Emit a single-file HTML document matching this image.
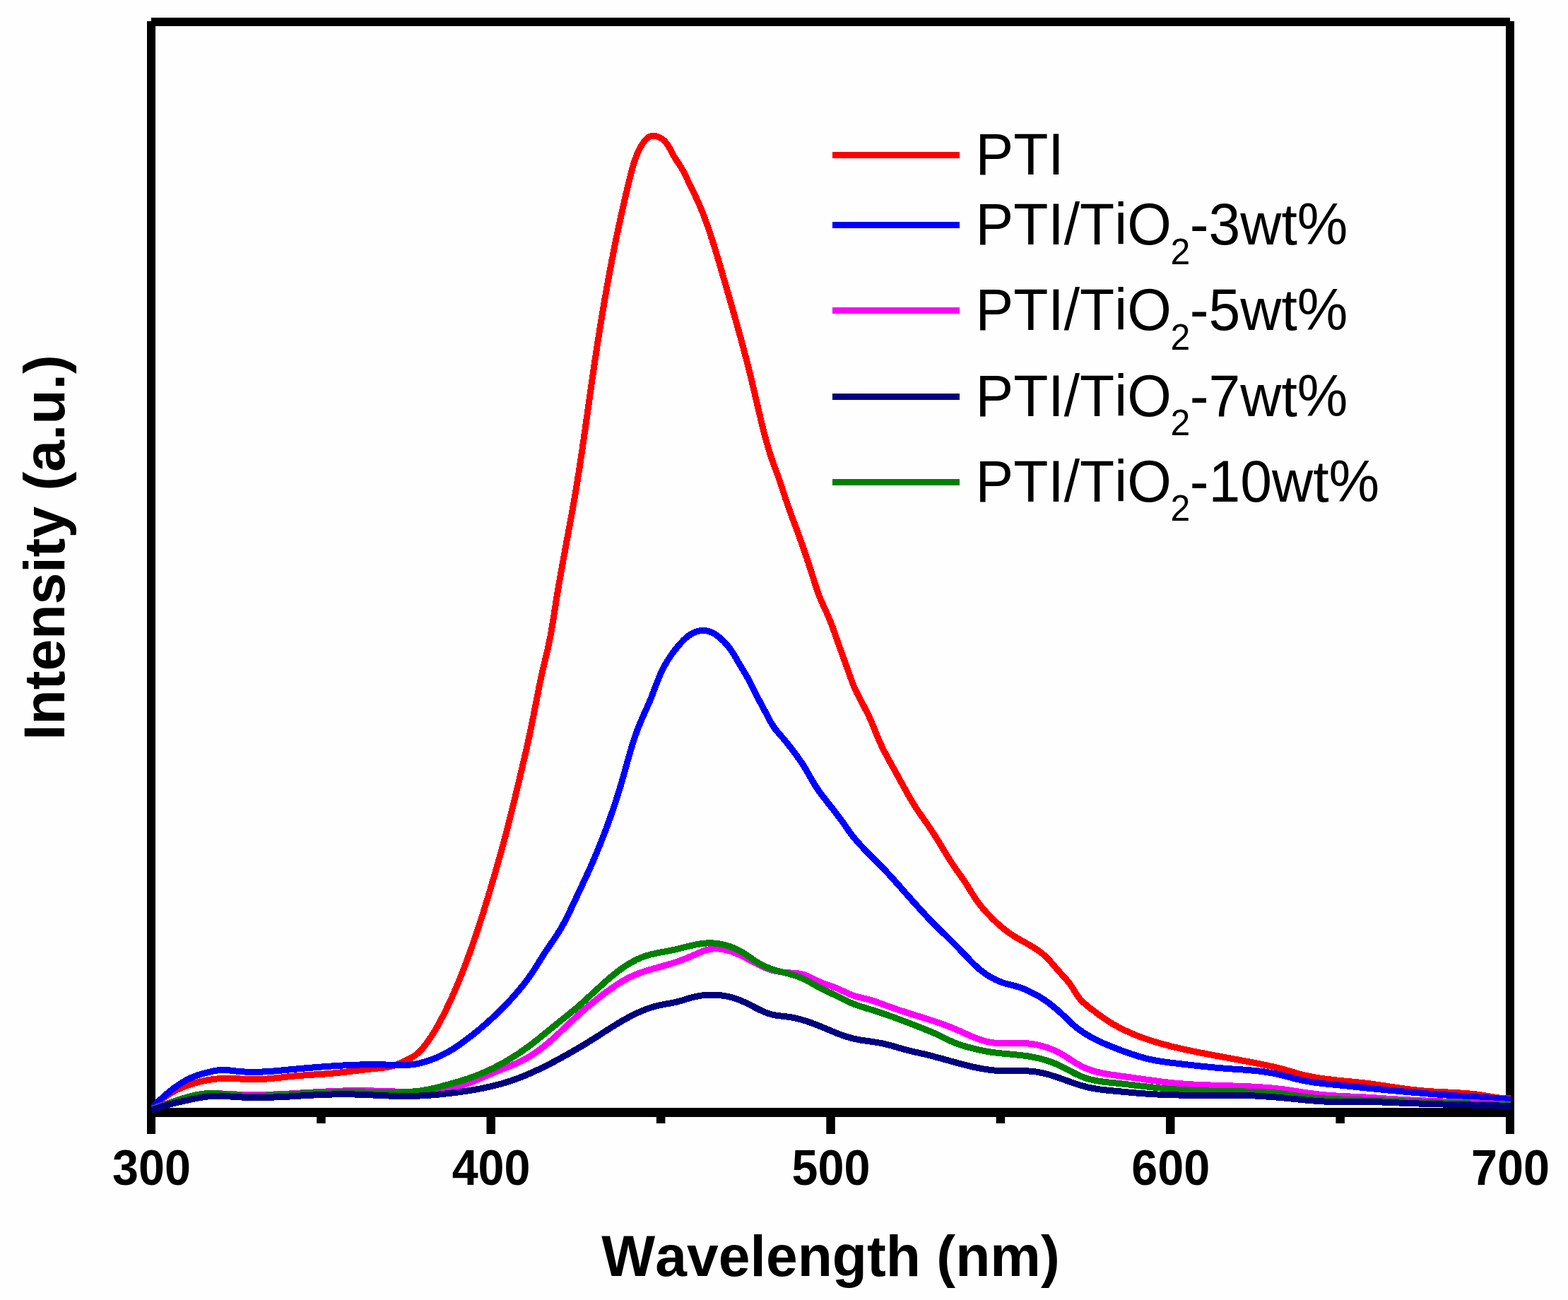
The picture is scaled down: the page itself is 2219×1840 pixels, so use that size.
<!DOCTYPE html>
<html lang="en">
<head>
<meta charset="utf-8">
<title>PL spectra</title>
<style>
html,body{margin:0;padding:0;background:#fefefe;}
body{width:2219px;height:1840px;overflow:hidden;}
svg{display:block;}
</style>
</head>
<body>
<svg width="2219" height="1840" viewBox="0 0 2219 1840">
<rect width="2219" height="1840" fill="#fefefe"/>
<defs><clipPath id="plot"><rect x="214" y="31" width="1924" height="1560"/></clipPath></defs>
<g fill="#000">
<rect x="208" y="30" width="12" height="1575"/>
<rect x="2131" y="30" width="12" height="1575"/>
<rect x="214" y="25" width="1923" height="12"/>
<rect x="214" y="1568" width="1923" height="13"/>
<rect x="688.5" y="1574" width="12.5" height="31"/>
<rect x="1169.3" y="1574" width="12.5" height="31"/>
<rect x="1650.0" y="1574" width="12.5" height="31"/>
<rect x="448.2" y="1574" width="12.5" height="16"/>
<rect x="928.9" y="1574" width="12.5" height="16"/>
<rect x="1409.7" y="1574" width="12.5" height="16"/>
<rect x="1890.4" y="1574" width="12.5" height="16"/>
</g>
<g fill="none" stroke-width="9" stroke-linejoin="round" shape-rendering="crispEdges" clip-path="url(#plot)">
<path stroke="#ff0000" d="M214.0,1569.0 L215.5,1567.6 L217.0,1566.2 L218.5,1564.9 L220.0,1563.5 L221.5,1562.2 L223.0,1560.9 L224.5,1559.6 L226.1,1558.3 L227.6,1557.1 L229.2,1555.8 L230.8,1554.6 L232.4,1553.4 L234.0,1552.3 L235.6,1551.1 L237.3,1550.0 L238.9,1548.9 L240.6,1547.9 L242.3,1546.9 L244.0,1545.9 L245.8,1544.9 L247.5,1543.9 L249.3,1543.0 L251.1,1542.2 L252.9,1541.3 L254.7,1540.5 L256.6,1539.7 L258.4,1538.9 L260.3,1538.2 L262.2,1537.4 L264.1,1536.7 L266.0,1536.1 L267.9,1535.4 L269.8,1534.8 L271.7,1534.2 L273.6,1533.6 L275.5,1533.0 L277.5,1532.5 L279.4,1531.9 L281.4,1531.4 L283.3,1530.9 L285.2,1530.5 L287.2,1530.0 L289.1,1529.6 L291.1,1529.2 L293.1,1528.9 L295.0,1528.5 L297.0,1528.2 L299.0,1527.9 L300.9,1527.6 L302.9,1527.4 L304.9,1527.2 L306.9,1527.0 L308.9,1526.8 L310.9,1526.6 L312.8,1526.5 L314.8,1526.4 L316.8,1526.4 L318.8,1526.3 L320.8,1526.3 L322.8,1526.3 L324.8,1526.4 L326.8,1526.4 L328.8,1526.5 L330.8,1526.6 L332.8,1526.6 L334.8,1526.7 L336.8,1526.8 L338.8,1526.9 L340.8,1527.1 L342.9,1527.2 L344.9,1527.3 L346.9,1527.4 L348.9,1527.5 L350.9,1527.6 L352.9,1527.6 L354.9,1527.7 L356.9,1527.7 L358.9,1527.8 L360.9,1527.8 L362.9,1527.7 L364.9,1527.7 L366.9,1527.7 L368.9,1527.6 L370.9,1527.5 L372.9,1527.4 L374.9,1527.2 L376.9,1527.1 L378.9,1526.9 L380.9,1526.8 L382.9,1526.6 L384.9,1526.4 L386.8,1526.2 L388.8,1526.0 L390.8,1525.8 L392.8,1525.6 L394.8,1525.4 L396.8,1525.1 L398.8,1524.9 L400.8,1524.7 L402.8,1524.5 L404.8,1524.3 L406.8,1524.0 L408.7,1523.8 L410.7,1523.6 L412.7,1523.4 L414.7,1523.2 L416.7,1523.0 L418.7,1522.9 L420.7,1522.7 L422.7,1522.5 L424.7,1522.4 L426.7,1522.2 L428.7,1522.1 L430.7,1521.9 L432.7,1521.8 L434.7,1521.7 L436.7,1521.5 L438.7,1521.4 L440.7,1521.3 L442.7,1521.1 L444.7,1521.0 L446.7,1520.9 L448.6,1520.8 L450.6,1520.6 L452.6,1520.5 L454.6,1520.3 L456.6,1520.2 L458.6,1520.1 L460.6,1519.9 L462.6,1519.7 L464.6,1519.6 L466.6,1519.4 L468.6,1519.2 L470.6,1519.1 L472.6,1518.9 L474.6,1518.7 L476.6,1518.5 L478.6,1518.3 L480.6,1518.1 L482.5,1517.9 L484.5,1517.6 L486.5,1517.4 L488.5,1517.2 L490.5,1517.0 L492.5,1516.7 L494.5,1516.5 L496.5,1516.3 L498.5,1516.0 L500.4,1515.8 L502.4,1515.6 L504.4,1515.3 L506.4,1515.1 L508.4,1514.9 L510.4,1514.7 L512.4,1514.4 L514.3,1514.2 L516.3,1514.0 L518.3,1513.7 L520.3,1513.5 L522.3,1513.3 L524.3,1513.1 L526.3,1512.9 L528.3,1512.7 L530.3,1512.5 L532.2,1512.3 L534.3,1512.1 L536.3,1511.9 L538.3,1511.7 L540.3,1511.5 L542.3,1511.2 L544.3,1511.0 L546.2,1510.7 L548.2,1510.4 L550.2,1510.0 L552.1,1509.6 L554.1,1509.1 L556.0,1508.6 L557.9,1508.0 L559.8,1507.4 L561.6,1506.7 L563.5,1505.9 L565.3,1505.1 L567.2,1504.3 L569.0,1503.5 L570.8,1502.7 L572.7,1501.8 L574.5,1501.0 L576.3,1500.1 L578.1,1499.2 L579.9,1498.3 L581.7,1497.4 L583.4,1496.3 L585.1,1495.3 L586.8,1494.2 L588.4,1493.0 L589.9,1491.7 L591.4,1490.4 L592.9,1489.1 L594.3,1487.7 L595.7,1486.3 L597.0,1484.8 L598.4,1483.3 L599.7,1481.7 L600.9,1480.1 L602.2,1478.5 L603.4,1476.9 L604.6,1475.3 L605.7,1473.6 L606.9,1472.0 L608.0,1470.3 L609.2,1468.7 L610.3,1467.0 L611.4,1465.3 L612.4,1463.6 L613.5,1461.9 L614.5,1460.2 L615.6,1458.5 L616.6,1456.8 L617.6,1455.0 L618.6,1453.3 L619.6,1451.5 L620.6,1449.8 L621.5,1448.0 L622.5,1446.3 L623.4,1444.5 L624.3,1442.7 L625.3,1441.0 L626.2,1439.2 L627.1,1437.4 L628.0,1435.6 L628.9,1433.8 L629.8,1432.1 L630.7,1430.3 L631.6,1428.5 L632.4,1426.7 L633.3,1424.9 L634.2,1423.1 L635.0,1421.3 L635.9,1419.4 L636.7,1417.6 L637.6,1415.8 L638.4,1414.0 L639.2,1412.2 L640.1,1410.4 L640.9,1408.5 L641.7,1406.7 L642.5,1404.9 L643.3,1403.0 L644.1,1401.2 L644.9,1399.4 L645.7,1397.5 L646.4,1395.7 L647.2,1393.8 L648.0,1392.0 L648.8,1390.1 L649.5,1388.3 L650.3,1386.4 L651.0,1384.6 L651.8,1382.7 L652.5,1380.9 L653.3,1379.0 L654.0,1377.2 L654.7,1375.3 L655.5,1373.4 L656.2,1371.6 L656.9,1369.7 L657.6,1367.8 L658.3,1366.0 L659.0,1364.1 L659.8,1362.2 L660.5,1360.3 L661.2,1358.5 L661.8,1356.6 L662.5,1354.7 L663.2,1352.8 L663.9,1351.0 L664.6,1349.1 L665.3,1347.2 L665.9,1345.3 L666.6,1343.4 L667.3,1341.5 L667.9,1339.7 L668.6,1337.8 L669.3,1335.9 L669.9,1334.0 L670.6,1332.1 L671.2,1330.2 L671.9,1328.3 L672.5,1326.4 L673.2,1324.5 L673.8,1322.6 L674.4,1320.7 L675.1,1318.8 L675.7,1316.9 L676.3,1315.0 L676.9,1313.1 L677.6,1311.2 L678.2,1309.3 L678.8,1307.4 L679.4,1305.5 L680.0,1303.6 L680.6,1301.7 L681.3,1299.8 L681.9,1297.9 L682.5,1296.0 L683.1,1294.1 L683.7,1292.2 L684.3,1290.3 L684.9,1288.3 L685.5,1286.4 L686.0,1284.5 L686.6,1282.6 L687.2,1280.7 L687.8,1278.8 L688.4,1276.9 L689.0,1275.0 L689.6,1273.0 L690.1,1271.1 L690.7,1269.2 L691.3,1267.3 L691.9,1265.4 L692.5,1263.5 L693.0,1261.5 L693.6,1259.6 L694.2,1257.7 L694.7,1255.8 L695.3,1253.9 L695.9,1251.9 L696.4,1250.0 L697.0,1248.1 L697.6,1246.2 L698.1,1244.3 L698.7,1242.3 L699.2,1240.4 L699.8,1238.5 L700.4,1236.6 L700.9,1234.7 L701.5,1232.7 L702.0,1230.8 L702.6,1228.9 L703.1,1227.0 L703.7,1225.0 L704.2,1223.1 L704.8,1221.2 L705.3,1219.3 L705.9,1217.3 L706.4,1215.4 L707.0,1213.5 L707.5,1211.6 L708.0,1209.6 L708.6,1207.7 L709.1,1205.8 L709.6,1203.9 L710.2,1201.9 L710.7,1200.0 L711.2,1198.1 L711.8,1196.1 L712.3,1194.2 L712.8,1192.3 L713.3,1190.3 L713.8,1188.4 L714.3,1186.5 L714.9,1184.5 L715.4,1182.6 L715.9,1180.7 L716.4,1178.7 L716.9,1176.8 L717.4,1174.9 L717.9,1172.9 L718.4,1171.0 L718.9,1169.0 L719.4,1167.1 L719.9,1165.2 L720.3,1163.2 L720.8,1161.3 L721.3,1159.4 L721.8,1157.4 L722.3,1155.5 L722.8,1153.5 L723.3,1151.6 L723.8,1149.6 L724.2,1147.7 L724.7,1145.8 L725.2,1143.8 L725.7,1141.9 L726.1,1139.9 L726.6,1138.0 L727.1,1136.0 L727.6,1134.1 L728.0,1132.2 L728.5,1130.2 L729.0,1128.3 L729.4,1126.3 L729.9,1124.4 L730.4,1122.4 L730.9,1120.5 L731.3,1118.5 L731.8,1116.6 L732.3,1114.6 L732.7,1112.7 L733.2,1110.7 L733.6,1108.8 L734.1,1106.9 L734.6,1104.9 L735.0,1103.0 L735.5,1101.0 L736.0,1099.1 L736.4,1097.1 L736.9,1095.2 L737.4,1093.2 L737.8,1091.3 L738.3,1089.3 L738.7,1087.4 L739.2,1085.4 L739.6,1083.5 L740.1,1081.5 L740.6,1079.6 L741.0,1077.7 L741.5,1075.7 L741.9,1073.8 L742.4,1071.8 L742.8,1069.9 L743.3,1067.9 L743.7,1066.0 L744.2,1064.0 L744.6,1062.1 L745.1,1060.1 L745.5,1058.2 L745.9,1056.2 L746.4,1054.3 L746.8,1052.3 L747.2,1050.3 L747.7,1048.4 L748.1,1046.4 L748.5,1044.5 L748.9,1042.5 L749.4,1040.6 L749.8,1038.6 L750.2,1036.7 L750.6,1034.7 L751.0,1032.8 L751.4,1030.8 L751.8,1028.8 L752.2,1026.9 L752.6,1024.9 L753.0,1023.0 L753.4,1021.0 L753.8,1019.0 L754.2,1017.1 L754.6,1015.1 L755.0,1013.1 L755.4,1011.2 L755.7,1009.2 L756.1,1007.3 L756.5,1005.3 L756.9,1003.3 L757.3,1001.4 L757.6,999.4 L758.0,997.4 L758.4,995.5 L758.8,993.5 L759.2,991.5 L759.5,989.6 L759.9,987.6 L760.3,985.6 L760.7,983.7 L761.1,981.7 L761.5,979.7 L761.9,977.8 L762.2,975.8 L762.6,973.9 L763.0,971.9 L763.4,969.9 L763.8,968.0 L764.2,966.0 L764.7,964.1 L765.1,962.1 L765.5,960.1 L765.9,958.2 L766.3,956.2 L766.8,954.3 L767.2,952.3 L767.6,950.4 L768.1,948.4 L768.5,946.5 L769.0,944.5 L769.5,942.6 L769.9,940.6 L770.4,938.7 L770.9,936.7 L771.3,934.8 L771.8,932.8 L772.2,930.9 L772.7,928.9 L773.2,927.0 L773.6,925.0 L774.1,923.1 L774.5,921.1 L775.0,919.2 L775.4,917.2 L775.9,915.3 L776.3,913.3 L776.7,911.4 L777.1,909.4 L777.5,907.5 L777.9,905.5 L778.3,903.5 L778.7,901.6 L779.1,899.6 L779.4,897.6 L779.8,895.7 L780.1,893.7 L780.5,891.7 L780.8,889.8 L781.1,887.8 L781.5,885.8 L781.8,883.9 L782.1,881.9 L782.4,879.9 L782.8,877.9 L783.1,876.0 L783.4,874.0 L783.7,872.0 L784.0,870.0 L784.3,868.0 L784.6,866.1 L784.9,864.1 L785.2,862.1 L785.5,860.1 L785.8,858.2 L786.2,856.2 L786.5,854.2 L786.8,852.2 L787.1,850.2 L787.4,848.3 L787.7,846.3 L788.0,844.3 L788.4,842.3 L788.7,840.4 L789.0,838.4 L789.4,836.4 L789.7,834.4 L790.0,832.5 L790.4,830.5 L790.7,828.5 L791.0,826.6 L791.4,824.6 L791.7,822.6 L792.1,820.6 L792.4,818.7 L792.8,816.7 L793.1,814.7 L793.4,812.8 L793.8,810.8 L794.2,808.8 L794.5,806.8 L794.9,804.9 L795.2,802.9 L795.6,800.9 L795.9,799.0 L796.3,797.0 L796.6,795.0 L797.0,793.1 L797.4,791.1 L797.7,789.1 L798.1,787.2 L798.5,785.2 L798.8,783.2 L799.2,781.3 L799.5,779.3 L799.9,777.3 L800.3,775.3 L800.6,773.4 L801.0,771.4 L801.4,769.4 L801.7,767.5 L802.1,765.5 L802.5,763.5 L802.8,761.6 L803.2,759.6 L803.6,757.6 L803.9,755.7 L804.3,753.7 L804.7,751.7 L805.0,749.8 L805.4,747.8 L805.7,745.8 L806.1,743.9 L806.5,741.9 L806.8,739.9 L807.2,738.0 L807.6,736.0 L807.9,734.0 L808.3,732.0 L808.6,730.1 L809.0,728.1 L809.3,726.1 L809.7,724.2 L810.0,722.2 L810.4,720.2 L810.7,718.3 L811.1,716.3 L811.4,714.3 L811.8,712.3 L812.1,710.4 L812.5,708.4 L812.8,706.4 L813.2,704.5 L813.5,702.5 L813.8,700.5 L814.2,698.5 L814.5,696.6 L814.8,694.6 L815.2,692.6 L815.5,690.7 L815.8,688.7 L816.1,686.7 L816.4,684.7 L816.8,682.8 L817.1,680.8 L817.4,678.8 L817.7,676.8 L818.0,674.9 L818.3,672.9 L818.7,670.9 L819.0,668.9 L819.3,667.0 L819.6,665.0 L819.9,663.0 L820.2,661.0 L820.5,659.0 L820.8,657.1 L821.1,655.1 L821.4,653.1 L821.7,651.1 L822.0,649.2 L822.3,647.2 L822.6,645.2 L822.9,643.2 L823.2,641.2 L823.5,639.3 L823.8,637.3 L824.1,635.3 L824.3,633.3 L824.6,631.3 L824.9,629.4 L825.2,627.4 L825.5,625.4 L825.8,623.4 L826.1,621.4 L826.4,619.5 L826.6,617.5 L826.9,615.5 L827.2,613.5 L827.5,611.5 L827.8,609.6 L828.1,607.6 L828.3,605.6 L828.6,603.6 L828.9,601.6 L829.2,599.7 L829.5,597.7 L829.7,595.7 L830.0,593.7 L830.3,591.7 L830.6,589.8 L830.9,587.8 L831.1,585.8 L831.4,583.8 L831.7,581.8 L832.0,579.8 L832.2,577.9 L832.5,575.9 L832.8,573.9 L833.1,571.9 L833.4,569.9 L833.6,568.0 L833.9,566.0 L834.2,564.0 L834.5,562.0 L834.8,560.0 L835.0,558.0 L835.3,556.1 L835.6,554.1 L835.9,552.1 L836.2,550.1 L836.4,548.1 L836.7,546.2 L837.0,544.2 L837.3,542.2 L837.6,540.2 L837.9,538.2 L838.1,536.3 L838.4,534.3 L838.7,532.3 L839.0,530.3 L839.3,528.3 L839.6,526.4 L839.9,524.4 L840.2,522.4 L840.4,520.4 L840.7,518.4 L841.0,516.5 L841.3,514.5 L841.6,512.5 L841.9,510.5 L842.2,508.5 L842.5,506.6 L842.8,504.6 L843.1,502.6 L843.4,500.6 L843.7,498.6 L844.0,496.7 L844.3,494.7 L844.6,492.7 L844.9,490.7 L845.2,488.7 L845.5,486.8 L845.8,484.8 L846.1,482.8 L846.4,480.8 L846.7,478.9 L847.1,476.9 L847.4,474.9 L847.7,472.9 L848.0,470.9 L848.3,469.0 L848.6,467.0 L848.9,465.0 L849.3,463.0 L849.6,461.1 L849.9,459.1 L850.2,457.1 L850.5,455.1 L850.9,453.2 L851.2,451.2 L851.5,449.2 L851.8,447.2 L852.2,445.3 L852.5,443.3 L852.8,441.3 L853.2,439.3 L853.5,437.4 L853.8,435.4 L854.2,433.4 L854.5,431.5 L854.8,429.5 L855.2,427.5 L855.5,425.5 L855.9,423.6 L856.2,421.6 L856.5,419.6 L856.9,417.7 L857.2,415.7 L857.6,413.7 L857.9,411.7 L858.3,409.8 L858.6,407.8 L859.0,405.8 L859.3,403.9 L859.7,401.9 L860.0,399.9 L860.4,398.0 L860.8,396.0 L861.1,394.0 L861.5,392.0 L861.8,390.1 L862.2,388.1 L862.6,386.1 L862.9,384.2 L863.3,382.2 L863.7,380.2 L864.0,378.3 L864.4,376.3 L864.8,374.3 L865.2,372.4 L865.5,370.4 L865.9,368.5 L866.3,366.5 L866.7,364.5 L867.1,362.6 L867.4,360.6 L867.8,358.6 L868.2,356.7 L868.6,354.7 L869.0,352.7 L869.4,350.8 L869.8,348.8 L870.2,346.9 L870.6,344.9 L871.0,342.9 L871.4,341.0 L871.8,339.0 L872.2,337.1 L872.6,335.1 L873.0,333.1 L873.4,331.2 L873.8,329.2 L874.2,327.3 L874.6,325.3 L875.0,323.3 L875.5,321.4 L875.9,319.4 L876.3,317.5 L876.7,315.5 L877.1,313.6 L877.6,311.6 L878.0,309.7 L878.4,307.7 L878.8,305.7 L879.3,303.8 L879.7,301.8 L880.1,299.9 L880.6,297.9 L881.0,296.0 L881.4,294.0 L881.9,292.1 L882.3,290.1 L882.8,288.2 L883.2,286.2 L883.7,284.3 L884.1,282.3 L884.6,280.4 L885.0,278.4 L885.5,276.5 L885.9,274.5 L886.4,272.6 L886.9,270.6 L887.3,268.7 L887.8,266.7 L888.3,264.8 L888.7,262.9 L889.2,260.9 L889.7,259.0 L890.2,257.0 L890.6,255.1 L891.1,253.1 L891.6,251.2 L892.1,249.3 L892.6,247.3 L893.0,245.4 L893.5,243.4 L894.0,241.5 L894.6,239.6 L895.1,237.6 L895.6,235.7 L896.2,233.8 L896.8,231.9 L897.4,230.0 L898.0,228.1 L898.6,226.2 L899.3,224.3 L900.0,222.4 L900.7,220.6 L901.4,218.7 L902.2,216.9 L903.0,215.0 L903.9,213.2 L904.8,211.4 L905.7,209.6 L906.7,207.9 L907.7,206.1 L908.8,204.4 L909.9,202.7 L911.1,201.0 L912.3,199.4 L913.7,197.8 L915.1,196.4 L916.6,195.1 L918.2,194.0 L919.9,193.2 L921.7,192.7 L923.7,192.4 L925.6,192.4 L927.6,192.6 L929.6,193.1 L931.6,193.8 L933.5,194.6 L935.3,195.6 L937.0,196.7 L938.6,198.0 L940.1,199.3 L941.5,200.8 L942.8,202.3 L944.0,203.8 L945.1,205.5 L946.2,207.2 L947.2,208.9 L948.1,210.6 L949.0,212.4 L950.0,214.2 L950.9,215.9 L951.8,217.7 L952.8,219.5 L953.8,221.2 L954.9,222.9 L956.0,224.6 L957.0,226.3 L958.1,228.0 L959.3,229.6 L960.4,231.3 L961.5,233.0 L962.5,234.7 L963.6,236.4 L964.6,238.1 L965.6,239.8 L966.6,241.5 L967.5,243.3 L968.5,245.1 L969.4,246.8 L970.2,248.6 L971.1,250.4 L972.0,252.2 L972.8,254.0 L973.6,255.9 L974.5,257.7 L975.3,259.5 L976.2,261.3 L977.0,263.1 L977.9,264.9 L978.8,266.7 L979.7,268.5 L980.5,270.3 L981.4,272.1 L982.3,273.9 L983.2,275.7 L984.0,277.5 L984.9,279.3 L985.8,281.1 L986.6,282.9 L987.4,284.8 L988.3,286.6 L989.1,288.4 L989.9,290.2 L990.7,292.1 L991.4,293.9 L992.2,295.8 L993.0,297.6 L993.7,299.5 L994.5,301.3 L995.2,303.2 L995.9,305.0 L996.6,306.9 L997.3,308.8 L998.0,310.7 L998.7,312.5 L999.4,314.4 L1000.1,316.3 L1000.8,318.2 L1001.4,320.1 L1002.1,321.9 L1002.7,323.8 L1003.4,325.7 L1004.0,327.6 L1004.7,329.5 L1005.3,331.4 L1005.9,333.3 L1006.5,335.2 L1007.1,337.1 L1007.8,339.0 L1008.4,340.9 L1009.0,342.9 L1009.6,344.8 L1010.2,346.7 L1010.7,348.6 L1011.3,350.5 L1011.9,352.4 L1012.5,354.3 L1013.1,356.3 L1013.7,358.2 L1014.2,360.1 L1014.8,362.0 L1015.4,363.9 L1015.9,365.8 L1016.5,367.8 L1017.1,369.7 L1017.7,371.6 L1018.2,373.5 L1018.8,375.4 L1019.4,377.4 L1019.9,379.3 L1020.5,381.2 L1021.1,383.1 L1021.6,385.0 L1022.2,387.0 L1022.7,388.9 L1023.3,390.8 L1023.9,392.7 L1024.4,394.6 L1025.0,396.6 L1025.5,398.5 L1026.1,400.4 L1026.7,402.3 L1027.2,404.2 L1027.8,406.2 L1028.3,408.1 L1028.9,410.0 L1029.4,411.9 L1030.0,413.9 L1030.5,415.8 L1031.1,417.7 L1031.6,419.6 L1032.2,421.5 L1032.7,423.5 L1033.3,425.4 L1033.8,427.3 L1034.4,429.2 L1034.9,431.2 L1035.5,433.1 L1036.0,435.0 L1036.6,436.9 L1037.1,438.9 L1037.7,440.8 L1038.2,442.7 L1038.7,444.6 L1039.3,446.6 L1039.8,448.5 L1040.4,450.4 L1040.9,452.3 L1041.5,454.3 L1042.0,456.2 L1042.5,458.1 L1043.1,460.0 L1043.6,462.0 L1044.1,463.9 L1044.7,465.8 L1045.2,467.8 L1045.8,469.7 L1046.3,471.6 L1046.8,473.5 L1047.3,475.5 L1047.9,477.4 L1048.4,479.3 L1048.9,481.3 L1049.5,483.2 L1050.0,485.1 L1050.5,487.1 L1051.0,489.0 L1051.6,490.9 L1052.1,492.9 L1052.6,494.8 L1053.1,496.7 L1053.6,498.7 L1054.1,500.6 L1054.6,502.5 L1055.2,504.5 L1055.7,506.4 L1056.2,508.3 L1056.7,510.3 L1057.2,512.2 L1057.7,514.1 L1058.2,516.1 L1058.6,518.0 L1059.1,520.0 L1059.6,521.9 L1060.1,523.8 L1060.6,525.8 L1061.1,527.7 L1061.5,529.7 L1062.0,531.6 L1062.5,533.6 L1062.9,535.5 L1063.4,537.4 L1063.9,539.4 L1064.3,541.3 L1064.8,543.3 L1065.3,545.2 L1065.7,547.2 L1066.2,549.1 L1066.6,551.1 L1067.1,553.0 L1067.6,555.0 L1068.0,556.9 L1068.5,558.9 L1068.9,560.8 L1069.4,562.8 L1069.8,564.7 L1070.3,566.6 L1070.7,568.6 L1071.2,570.5 L1071.6,572.5 L1072.1,574.4 L1072.6,576.4 L1073.0,578.3 L1073.5,580.3 L1073.9,582.2 L1074.4,584.2 L1074.8,586.1 L1075.3,588.1 L1075.8,590.0 L1076.2,592.0 L1076.7,593.9 L1077.2,595.9 L1077.6,597.8 L1078.1,599.8 L1078.6,601.7 L1079.1,603.7 L1079.5,605.6 L1080.0,607.6 L1080.5,609.5 L1081.0,611.4 L1081.5,613.4 L1082.0,615.3 L1082.5,617.3 L1083.1,619.2 L1083.6,621.1 L1084.1,623.1 L1084.6,625.0 L1085.2,626.9 L1085.7,628.8 L1086.3,630.8 L1086.8,632.7 L1087.4,634.6 L1088.0,636.5 L1088.6,638.4 L1089.2,640.3 L1089.8,642.2 L1090.4,644.1 L1091.0,646.0 L1091.6,647.9 L1092.3,649.8 L1092.9,651.7 L1093.6,653.6 L1094.3,655.5 L1094.9,657.4 L1095.6,659.2 L1096.3,661.1 L1097.0,663.0 L1097.7,664.8 L1098.4,666.7 L1099.1,668.6 L1099.8,670.5 L1100.5,672.3 L1101.2,674.2 L1101.9,676.1 L1102.5,678.0 L1103.2,679.9 L1103.8,681.8 L1104.5,683.7 L1105.1,685.6 L1105.7,687.5 L1106.4,689.4 L1107.0,691.3 L1107.6,693.2 L1108.2,695.1 L1108.8,697.0 L1109.4,698.9 L1110.1,700.8 L1110.7,702.7 L1111.3,704.6 L1111.9,706.5 L1112.6,708.4 L1113.2,710.3 L1113.9,712.2 L1114.5,714.1 L1115.2,716.0 L1115.9,717.8 L1116.5,719.7 L1117.2,721.6 L1117.9,723.5 L1118.6,725.4 L1119.2,727.3 L1119.9,729.1 L1120.6,731.0 L1121.3,732.9 L1122.0,734.8 L1122.7,736.6 L1123.4,738.5 L1124.1,740.4 L1124.8,742.3 L1125.5,744.1 L1126.2,746.0 L1126.9,747.9 L1127.6,749.8 L1128.3,751.6 L1129.0,753.5 L1129.6,755.4 L1130.3,757.3 L1131.0,759.1 L1131.7,761.0 L1132.4,762.9 L1133.0,764.8 L1133.7,766.7 L1134.4,768.6 L1135.1,770.4 L1135.7,772.3 L1136.4,774.2 L1137.0,776.1 L1137.7,778.0 L1138.3,779.9 L1139.0,781.8 L1139.6,783.7 L1140.3,785.6 L1140.9,787.5 L1141.6,789.4 L1142.2,791.3 L1142.8,793.2 L1143.5,795.1 L1144.1,797.0 L1144.7,798.9 L1145.3,800.8 L1145.9,802.7 L1146.6,804.6 L1147.2,806.5 L1147.8,808.4 L1148.4,810.3 L1149.0,812.2 L1149.6,814.1 L1150.2,816.0 L1150.8,817.9 L1151.4,819.8 L1152.0,821.8 L1152.6,823.7 L1153.2,825.6 L1153.8,827.5 L1154.4,829.4 L1155.0,831.3 L1155.7,833.2 L1156.3,835.1 L1157.0,837.0 L1157.7,838.9 L1158.3,840.7 L1159.1,842.6 L1159.8,844.5 L1160.5,846.3 L1161.3,848.2 L1162.1,850.0 L1162.9,851.8 L1163.7,853.7 L1164.5,855.5 L1165.3,857.3 L1166.2,859.1 L1167.0,861.0 L1167.8,862.8 L1168.7,864.6 L1169.5,866.4 L1170.3,868.2 L1171.1,870.1 L1171.9,871.9 L1172.7,873.7 L1173.5,875.6 L1174.3,877.4 L1175.0,879.3 L1175.7,881.2 L1176.5,883.0 L1177.2,884.9 L1177.9,886.8 L1178.5,888.6 L1179.2,890.5 L1179.9,892.4 L1180.6,894.3 L1181.2,896.2 L1181.9,898.1 L1182.5,900.0 L1183.2,901.9 L1183.9,903.8 L1184.5,905.6 L1185.2,907.5 L1185.9,909.4 L1186.5,911.3 L1187.2,913.2 L1187.9,915.1 L1188.6,916.9 L1189.2,918.8 L1189.9,920.7 L1190.6,922.6 L1191.3,924.5 L1192.0,926.4 L1192.6,928.2 L1193.3,930.1 L1194.0,932.0 L1194.7,933.9 L1195.4,935.8 L1196.0,937.6 L1196.7,939.5 L1197.4,941.4 L1198.1,943.3 L1198.7,945.2 L1199.4,947.1 L1200.1,948.9 L1200.8,950.8 L1201.4,952.7 L1202.1,954.6 L1202.8,956.5 L1203.4,958.4 L1204.1,960.3 L1204.8,962.1 L1205.5,964.0 L1206.2,965.9 L1206.9,967.8 L1207.7,969.6 L1208.4,971.5 L1209.2,973.3 L1210.0,975.1 L1210.9,976.9 L1211.7,978.8 L1212.6,980.6 L1213.5,982.3 L1214.4,984.1 L1215.3,985.9 L1216.3,987.7 L1217.2,989.5 L1218.1,991.2 L1219.1,993.0 L1220.0,994.8 L1220.9,996.5 L1221.9,998.3 L1222.8,1000.1 L1223.7,1001.9 L1224.6,1003.6 L1225.6,1005.4 L1226.5,1007.2 L1227.3,1009.0 L1228.2,1010.8 L1229.1,1012.6 L1230.0,1014.4 L1230.8,1016.2 L1231.6,1018.0 L1232.4,1019.9 L1233.2,1021.7 L1234.0,1023.5 L1234.8,1025.4 L1235.6,1027.2 L1236.3,1029.1 L1237.1,1030.9 L1237.8,1032.8 L1238.6,1034.7 L1239.3,1036.5 L1240.1,1038.4 L1240.8,1040.2 L1241.6,1042.1 L1242.4,1043.9 L1243.1,1045.8 L1243.9,1047.6 L1244.7,1049.4 L1245.5,1051.3 L1246.4,1053.1 L1247.2,1054.9 L1248.1,1056.7 L1248.9,1058.5 L1249.8,1060.3 L1250.7,1062.1 L1251.6,1063.9 L1252.6,1065.6 L1253.5,1067.4 L1254.4,1069.2 L1255.4,1070.9 L1256.3,1072.7 L1257.3,1074.4 L1258.3,1076.2 L1259.2,1077.9 L1260.2,1079.7 L1261.2,1081.4 L1262.1,1083.2 L1263.1,1084.9 L1264.1,1086.7 L1265.1,1088.4 L1266.0,1090.2 L1267.0,1092.0 L1268.0,1093.7 L1268.9,1095.5 L1269.9,1097.2 L1270.9,1099.0 L1271.8,1100.7 L1272.8,1102.5 L1273.7,1104.3 L1274.7,1106.0 L1275.7,1107.8 L1276.6,1109.5 L1277.6,1111.3 L1278.6,1113.0 L1279.5,1114.8 L1280.5,1116.5 L1281.5,1118.3 L1282.4,1120.0 L1283.4,1121.8 L1284.4,1123.5 L1285.4,1125.3 L1286.4,1127.0 L1287.4,1128.7 L1288.4,1130.5 L1289.4,1132.2 L1290.5,1133.9 L1291.5,1135.6 L1292.5,1137.3 L1293.6,1139.0 L1294.6,1140.7 L1295.7,1142.4 L1296.8,1144.1 L1297.9,1145.7 L1299.0,1147.4 L1300.1,1149.1 L1301.2,1150.7 L1302.4,1152.4 L1303.5,1154.0 L1304.7,1155.6 L1305.8,1157.3 L1307.0,1158.9 L1308.1,1160.5 L1309.3,1162.2 L1310.5,1163.8 L1311.6,1165.4 L1312.8,1167.1 L1313.9,1168.7 L1315.0,1170.4 L1316.1,1172.0 L1317.2,1173.7 L1318.3,1175.4 L1319.4,1177.0 L1320.5,1178.7 L1321.6,1180.4 L1322.7,1182.1 L1323.7,1183.8 L1324.8,1185.5 L1325.8,1187.2 L1326.9,1188.9 L1327.9,1190.6 L1329.0,1192.3 L1330.0,1194.0 L1331.0,1195.8 L1332.1,1197.5 L1333.1,1199.2 L1334.1,1200.9 L1335.2,1202.6 L1336.2,1204.3 L1337.3,1206.0 L1338.3,1207.7 L1339.3,1209.4 L1340.4,1211.1 L1341.5,1212.8 L1342.5,1214.5 L1343.6,1216.2 L1344.7,1217.9 L1345.7,1219.6 L1346.8,1221.3 L1347.9,1222.9 L1349.1,1224.6 L1350.2,1226.3 L1351.3,1227.9 L1352.4,1229.6 L1353.6,1231.2 L1354.7,1232.8 L1355.9,1234.5 L1357.1,1236.1 L1358.2,1237.7 L1359.4,1239.4 L1360.5,1241.0 L1361.7,1242.6 L1362.8,1244.3 L1363.9,1245.9 L1365.1,1247.6 L1366.2,1249.3 L1367.2,1250.9 L1368.3,1252.6 L1369.4,1254.3 L1370.4,1256.0 L1371.5,1257.7 L1372.5,1259.4 L1373.6,1261.1 L1374.6,1262.8 L1375.7,1264.5 L1376.8,1266.2 L1377.8,1267.9 L1378.9,1269.6 L1380.0,1271.3 L1381.1,1272.9 L1382.3,1274.6 L1383.4,1276.2 L1384.6,1277.8 L1385.8,1279.4 L1387.1,1281.0 L1388.3,1282.5 L1389.6,1284.1 L1390.9,1285.6 L1392.2,1287.1 L1393.5,1288.6 L1394.9,1290.1 L1396.2,1291.6 L1397.6,1293.1 L1399.0,1294.5 L1400.4,1296.0 L1401.8,1297.4 L1403.2,1298.9 L1404.6,1300.3 L1406.0,1301.7 L1407.5,1303.1 L1408.9,1304.4 L1410.4,1305.8 L1411.8,1307.2 L1413.3,1308.5 L1414.8,1309.8 L1416.3,1311.1 L1417.9,1312.4 L1419.4,1313.7 L1421.0,1314.9 L1422.5,1316.2 L1424.1,1317.4 L1425.7,1318.6 L1427.3,1319.8 L1428.9,1320.9 L1430.6,1322.1 L1432.2,1323.2 L1433.9,1324.2 L1435.6,1325.3 L1437.3,1326.4 L1439.0,1327.4 L1440.7,1328.4 L1442.5,1329.4 L1444.2,1330.4 L1445.9,1331.4 L1447.7,1332.4 L1449.4,1333.3 L1451.2,1334.3 L1453.0,1335.3 L1454.7,1336.3 L1456.4,1337.3 L1458.2,1338.3 L1459.9,1339.3 L1461.6,1340.4 L1463.3,1341.4 L1465.0,1342.5 L1466.7,1343.6 L1468.4,1344.7 L1470.0,1345.9 L1471.6,1347.1 L1473.2,1348.3 L1474.8,1349.5 L1476.3,1350.8 L1477.9,1352.1 L1479.3,1353.4 L1480.8,1354.8 L1482.2,1356.2 L1483.6,1357.6 L1485.0,1359.1 L1486.3,1360.6 L1487.6,1362.1 L1488.9,1363.6 L1490.2,1365.1 L1491.5,1366.6 L1492.8,1368.2 L1494.1,1369.7 L1495.4,1371.2 L1496.7,1372.7 L1498.0,1374.2 L1499.4,1375.7 L1500.7,1377.2 L1502.1,1378.7 L1503.5,1380.2 L1504.8,1381.6 L1506.2,1383.1 L1507.5,1384.6 L1508.8,1386.1 L1510.1,1387.6 L1511.4,1389.2 L1512.6,1390.7 L1513.9,1392.3 L1515.0,1393.9 L1516.1,1395.6 L1517.2,1397.3 L1518.3,1399.0 L1519.4,1400.7 L1520.4,1402.4 L1521.5,1404.1 L1522.5,1405.8 L1523.6,1407.5 L1524.7,1409.2 L1525.9,1410.8 L1527.1,1412.4 L1528.3,1413.9 L1529.6,1415.4 L1531.0,1416.9 L1532.4,1418.3 L1533.9,1419.6 L1535.4,1420.9 L1536.9,1422.2 L1538.4,1423.5 L1540.0,1424.7 L1541.6,1426.0 L1543.2,1427.2 L1544.8,1428.4 L1546.4,1429.6 L1548.1,1430.8 L1549.7,1432.1 L1551.3,1433.3 L1552.9,1434.5 L1554.5,1435.7 L1556.1,1436.9 L1557.7,1438.0 L1559.4,1439.2 L1561.0,1440.4 L1562.6,1441.5 L1564.3,1442.6 L1566.0,1443.7 L1567.6,1444.8 L1569.3,1445.9 L1571.0,1447.0 L1572.7,1448.0 L1574.4,1449.0 L1576.2,1450.0 L1577.9,1451.0 L1579.6,1452.0 L1581.4,1452.9 L1583.1,1453.9 L1584.9,1454.8 L1586.7,1455.7 L1588.5,1456.6 L1590.3,1457.5 L1592.1,1458.4 L1593.9,1459.2 L1595.7,1460.1 L1597.5,1460.9 L1599.3,1461.7 L1601.2,1462.5 L1603.0,1463.3 L1604.9,1464.0 L1606.7,1464.8 L1608.6,1465.6 L1610.4,1466.3 L1612.3,1467.0 L1614.2,1467.7 L1616.1,1468.4 L1617.9,1469.1 L1619.8,1469.8 L1621.7,1470.4 L1623.6,1471.1 L1625.5,1471.7 L1627.4,1472.3 L1629.3,1473.0 L1631.2,1473.6 L1633.2,1474.2 L1635.1,1474.7 L1637.0,1475.3 L1638.9,1475.9 L1640.8,1476.5 L1642.8,1477.0 L1644.7,1477.5 L1646.6,1478.1 L1648.5,1478.6 L1650.5,1479.1 L1652.4,1479.6 L1654.3,1480.1 L1656.3,1480.6 L1658.2,1481.1 L1660.2,1481.6 L1662.1,1482.1 L1664.1,1482.5 L1666.0,1483.0 L1667.9,1483.4 L1669.9,1483.9 L1671.8,1484.3 L1673.8,1484.8 L1675.8,1485.2 L1677.7,1485.6 L1679.7,1486.0 L1681.6,1486.5 L1683.6,1486.9 L1685.5,1487.3 L1687.5,1487.7 L1689.5,1488.1 L1691.4,1488.5 L1693.4,1488.9 L1695.3,1489.3 L1697.3,1489.7 L1699.3,1490.1 L1701.2,1490.4 L1703.2,1490.8 L1705.2,1491.2 L1707.1,1491.6 L1709.1,1492.0 L1711.0,1492.3 L1713.0,1492.7 L1715.0,1493.1 L1716.9,1493.5 L1718.9,1493.8 L1720.9,1494.2 L1722.8,1494.6 L1724.8,1494.9 L1726.8,1495.3 L1728.8,1495.7 L1730.7,1496.0 L1732.7,1496.4 L1734.7,1496.8 L1736.6,1497.1 L1738.6,1497.5 L1740.6,1497.9 L1742.5,1498.2 L1744.5,1498.6 L1746.5,1499.0 L1748.4,1499.3 L1750.4,1499.7 L1752.4,1500.0 L1754.3,1500.4 L1756.3,1500.8 L1758.3,1501.1 L1760.2,1501.5 L1762.2,1501.9 L1764.2,1502.2 L1766.1,1502.6 L1768.1,1503.0 L1770.1,1503.4 L1772.0,1503.7 L1774.0,1504.1 L1776.0,1504.5 L1777.9,1504.9 L1779.9,1505.3 L1781.8,1505.7 L1783.8,1506.0 L1785.8,1506.4 L1787.7,1506.8 L1789.7,1507.2 L1791.6,1507.6 L1793.6,1508.1 L1795.5,1508.5 L1797.5,1508.9 L1799.4,1509.3 L1801.4,1509.8 L1803.3,1510.2 L1805.3,1510.7 L1807.2,1511.2 L1809.2,1511.6 L1811.1,1512.1 L1813.1,1512.6 L1815.0,1513.1 L1816.9,1513.6 L1818.9,1514.2 L1820.8,1514.7 L1822.7,1515.3 L1824.6,1515.8 L1826.6,1516.4 L1828.5,1517.0 L1830.4,1517.5 L1832.3,1518.1 L1834.3,1518.7 L1836.2,1519.2 L1838.1,1519.8 L1840.0,1520.3 L1842.0,1520.8 L1843.9,1521.3 L1845.9,1521.8 L1847.8,1522.2 L1849.7,1522.7 L1851.7,1523.1 L1853.7,1523.5 L1855.6,1523.9 L1857.6,1524.3 L1859.5,1524.6 L1861.5,1525.0 L1863.5,1525.3 L1865.4,1525.6 L1867.4,1525.9 L1869.4,1526.2 L1871.4,1526.5 L1873.3,1526.8 L1875.3,1527.1 L1877.3,1527.3 L1879.3,1527.6 L1881.3,1527.8 L1883.3,1528.0 L1885.3,1528.3 L1887.2,1528.5 L1889.2,1528.7 L1891.2,1528.9 L1893.2,1529.1 L1895.2,1529.3 L1897.2,1529.5 L1899.2,1529.7 L1901.2,1529.9 L1903.2,1530.1 L1905.2,1530.2 L1907.2,1530.4 L1909.2,1530.6 L1911.2,1530.8 L1913.2,1531.0 L1915.2,1531.2 L1917.2,1531.4 L1919.2,1531.6 L1921.2,1531.8 L1923.2,1532.0 L1925.1,1532.2 L1927.1,1532.5 L1929.1,1532.7 L1931.1,1532.9 L1933.1,1533.2 L1935.1,1533.4 L1937.1,1533.7 L1939.1,1533.9 L1941.1,1534.2 L1943.0,1534.5 L1945.0,1534.7 L1947.0,1535.0 L1949.0,1535.3 L1951.0,1535.6 L1952.9,1535.9 L1954.9,1536.2 L1956.9,1536.5 L1958.9,1536.8 L1960.9,1537.1 L1962.8,1537.4 L1964.8,1537.7 L1966.8,1538.0 L1968.8,1538.3 L1970.7,1538.5 L1972.7,1538.8 L1974.7,1539.1 L1976.7,1539.4 L1978.7,1539.7 L1980.6,1540.0 L1982.6,1540.3 L1984.6,1540.6 L1986.6,1540.8 L1988.6,1541.1 L1990.5,1541.4 L1992.5,1541.6 L1994.5,1541.9 L1996.5,1542.1 L1998.5,1542.4 L2000.5,1542.6 L2002.4,1542.8 L2004.4,1543.0 L2006.4,1543.3 L2008.4,1543.5 L2010.4,1543.6 L2012.4,1543.8 L2014.4,1544.0 L2016.4,1544.2 L2018.4,1544.3 L2020.4,1544.5 L2022.4,1544.6 L2024.4,1544.7 L2026.4,1544.9 L2028.3,1545.0 L2030.3,1545.1 L2032.4,1545.2 L2034.4,1545.3 L2036.4,1545.4 L2038.4,1545.5 L2040.4,1545.6 L2042.4,1545.7 L2044.4,1545.8 L2046.4,1545.9 L2048.4,1546.0 L2050.4,1546.1 L2052.4,1546.2 L2054.4,1546.3 L2056.4,1546.4 L2058.4,1546.5 L2060.4,1546.6 L2062.4,1546.7 L2064.4,1546.9 L2066.4,1547.0 L2068.4,1547.1 L2070.4,1547.3 L2072.4,1547.4 L2074.4,1547.5 L2076.4,1547.7 L2078.4,1547.9 L2080.3,1548.1 L2082.3,1548.3 L2084.3,1548.5 L2086.3,1548.7 L2088.3,1548.9 L2090.3,1549.1 L2092.3,1549.4 L2094.2,1549.7 L2096.2,1549.9 L2098.2,1550.2 L2100.2,1550.6 L2102.2,1550.9 L2104.1,1551.2 L2106.1,1551.6 L2108.1,1551.9 L2110.0,1552.2 L2112.0,1552.6 L2114.0,1552.9 L2116.0,1553.2 L2118.0,1553.5 L2119.9,1553.8 L2121.9,1554.0 L2123.9,1554.2 L2125.9,1554.4 L2127.9,1554.5 L2129.9,1554.6 L2131.9,1554.7 L2133.9,1554.7 L2136.0,1554.6 L2138.0,1554.5"/>
<path stroke="#0000ff" d="M214.0,1568.5 L215.5,1567.2 L216.9,1565.8 L218.3,1564.4 L219.8,1563.0 L221.2,1561.6 L222.7,1560.3 L224.2,1558.9 L225.6,1557.5 L227.1,1556.2 L228.6,1554.8 L230.1,1553.5 L231.6,1552.1 L233.1,1550.8 L234.6,1549.5 L236.1,1548.2 L237.7,1546.9 L239.2,1545.6 L240.8,1544.3 L242.3,1543.1 L243.9,1541.8 L245.5,1540.6 L247.1,1539.4 L248.7,1538.3 L250.4,1537.1 L252.0,1536.0 L253.7,1534.9 L255.3,1533.8 L257.0,1532.7 L258.7,1531.7 L260.4,1530.7 L262.2,1529.7 L263.9,1528.7 L265.7,1527.8 L267.5,1526.9 L269.3,1526.1 L271.1,1525.2 L272.9,1524.5 L274.8,1523.7 L276.7,1523.0 L278.5,1522.3 L280.4,1521.6 L282.4,1521.0 L284.3,1520.4 L286.2,1519.8 L288.2,1519.3 L290.1,1518.8 L292.1,1518.3 L294.1,1517.8 L296.0,1517.3 L298.0,1516.9 L300.0,1516.4 L301.9,1516.0 L303.9,1515.6 L305.9,1515.3 L307.8,1515.0 L309.8,1514.8 L311.8,1514.6 L313.8,1514.5 L315.8,1514.4 L317.7,1514.4 L319.7,1514.5 L321.7,1514.7 L323.7,1514.8 L325.7,1515.0 L327.7,1515.3 L329.7,1515.5 L331.7,1515.8 L333.7,1516.0 L335.7,1516.2 L337.7,1516.4 L339.7,1516.6 L341.7,1516.8 L343.7,1516.9 L345.7,1517.0 L347.7,1517.1 L349.7,1517.2 L351.7,1517.3 L353.7,1517.3 L355.7,1517.3 L357.7,1517.3 L359.6,1517.3 L361.6,1517.3 L363.6,1517.3 L365.6,1517.2 L367.6,1517.2 L369.6,1517.1 L371.6,1517.0 L373.6,1516.9 L375.6,1516.8 L377.6,1516.7 L379.6,1516.6 L381.6,1516.4 L383.6,1516.3 L385.6,1516.1 L387.6,1516.0 L389.6,1515.8 L391.6,1515.6 L393.6,1515.4 L395.6,1515.3 L397.6,1515.1 L399.5,1514.9 L401.5,1514.7 L403.5,1514.5 L405.5,1514.3 L407.5,1514.1 L409.5,1513.9 L411.5,1513.7 L413.5,1513.6 L415.5,1513.4 L417.5,1513.2 L419.5,1513.0 L421.5,1512.8 L423.5,1512.6 L425.5,1512.4 L427.5,1512.3 L429.5,1512.1 L431.5,1511.9 L433.5,1511.7 L435.5,1511.6 L437.4,1511.4 L439.4,1511.2 L441.4,1511.1 L443.4,1510.9 L445.4,1510.8 L447.4,1510.6 L449.4,1510.4 L451.4,1510.3 L453.4,1510.1 L455.4,1510.0 L457.4,1509.8 L459.4,1509.7 L461.4,1509.6 L463.4,1509.4 L465.4,1509.3 L467.4,1509.1 L469.4,1509.0 L471.4,1508.9 L473.4,1508.7 L475.4,1508.6 L477.4,1508.5 L479.4,1508.4 L481.4,1508.2 L483.4,1508.1 L485.4,1508.0 L487.3,1507.9 L489.3,1507.8 L491.3,1507.7 L493.3,1507.6 L495.3,1507.5 L497.3,1507.4 L499.3,1507.3 L501.3,1507.3 L503.3,1507.2 L505.3,1507.1 L507.3,1507.1 L509.3,1507.0 L511.3,1506.9 L513.3,1506.9 L515.3,1506.8 L517.3,1506.8 L519.3,1506.8 L521.3,1506.8 L523.3,1506.7 L525.3,1506.7 L527.3,1506.7 L529.3,1506.7 L531.3,1506.7 L533.3,1506.7 L535.3,1506.8 L537.3,1506.8 L539.3,1506.8 L541.3,1506.9 L543.3,1506.9 L545.3,1507.0 L547.3,1507.1 L549.3,1507.1 L551.3,1507.2 L553.3,1507.3 L555.3,1507.4 L557.3,1507.5 L559.3,1507.6 L561.3,1507.6 L563.3,1507.7 L565.3,1507.7 L567.3,1507.7 L569.3,1507.7 L571.3,1507.7 L573.3,1507.6 L575.3,1507.5 L577.3,1507.4 L579.3,1507.2 L581.3,1507.0 L583.3,1506.8 L585.3,1506.5 L587.2,1506.2 L589.2,1505.8 L591.2,1505.4 L593.1,1505.0 L595.1,1504.5 L597.0,1504.0 L599.0,1503.5 L600.9,1502.9 L602.8,1502.4 L604.8,1501.8 L606.7,1501.2 L608.6,1500.5 L610.4,1499.8 L612.3,1499.1 L614.2,1498.4 L616.0,1497.7 L617.9,1496.9 L619.7,1496.1 L621.5,1495.3 L623.3,1494.5 L625.1,1493.6 L626.9,1492.7 L628.7,1491.8 L630.5,1490.9 L632.2,1490.0 L634.0,1489.0 L635.7,1488.0 L637.4,1487.0 L639.1,1485.9 L640.8,1484.9 L642.5,1483.8 L644.2,1482.7 L645.9,1481.6 L647.5,1480.5 L649.2,1479.4 L650.8,1478.3 L652.5,1477.1 L654.1,1475.9 L655.7,1474.7 L657.3,1473.5 L658.9,1472.3 L660.5,1471.1 L662.1,1469.9 L663.7,1468.7 L665.3,1467.5 L666.8,1466.2 L668.4,1465.0 L670.0,1463.8 L671.6,1462.5 L673.1,1461.3 L674.7,1460.0 L676.2,1458.7 L677.8,1457.5 L679.3,1456.2 L680.8,1454.9 L682.4,1453.6 L683.9,1452.3 L685.4,1451.0 L686.9,1449.7 L688.4,1448.4 L689.9,1447.0 L691.4,1445.7 L692.9,1444.4 L694.4,1443.0 L695.9,1441.7 L697.3,1440.3 L698.8,1439.0 L700.2,1437.6 L701.7,1436.2 L703.1,1434.8 L704.6,1433.5 L706.0,1432.1 L707.4,1430.7 L708.9,1429.2 L710.3,1427.8 L711.7,1426.4 L713.1,1425.0 L714.5,1423.6 L715.9,1422.1 L717.3,1420.7 L718.6,1419.2 L720.0,1417.8 L721.4,1416.3 L722.7,1414.8 L724.1,1413.3 L725.4,1411.8 L726.7,1410.4 L728.1,1408.9 L729.4,1407.3 L730.7,1405.8 L732.0,1404.3 L733.3,1402.8 L734.6,1401.3 L735.9,1399.7 L737.1,1398.2 L738.4,1396.6 L739.7,1395.1 L740.9,1393.5 L742.2,1391.9 L743.4,1390.3 L744.6,1388.7 L745.8,1387.1 L747.0,1385.5 L748.2,1383.9 L749.3,1382.3 L750.5,1380.6 L751.6,1379.0 L752.8,1377.3 L753.9,1375.7 L755.0,1374.0 L756.1,1372.3 L757.1,1370.6 L758.2,1369.0 L759.3,1367.3 L760.3,1365.6 L761.4,1363.9 L762.4,1362.2 L763.5,1360.5 L764.5,1358.8 L765.6,1357.1 L766.7,1355.4 L767.7,1353.7 L768.8,1352.0 L769.9,1350.3 L771.0,1348.6 L772.1,1347.0 L773.2,1345.3 L774.3,1343.7 L775.5,1342.0 L776.6,1340.3 L777.7,1338.7 L778.9,1337.0 L780.0,1335.4 L781.1,1333.7 L782.3,1332.1 L783.4,1330.4 L784.5,1328.8 L785.6,1327.1 L786.7,1325.4 L787.8,1323.7 L788.9,1322.1 L790.0,1320.4 L791.0,1318.7 L792.1,1317.0 L793.1,1315.3 L794.1,1313.6 L795.1,1311.8 L796.1,1310.1 L797.1,1308.3 L798.0,1306.6 L799.0,1304.8 L799.9,1303.1 L800.8,1301.3 L801.7,1299.5 L802.6,1297.7 L803.5,1295.9 L804.4,1294.1 L805.2,1292.3 L806.1,1290.5 L807.0,1288.7 L807.8,1286.9 L808.7,1285.1 L809.5,1283.3 L810.4,1281.5 L811.2,1279.6 L812.1,1277.8 L812.9,1276.0 L813.8,1274.2 L814.6,1272.4 L815.5,1270.6 L816.4,1268.8 L817.2,1266.9 L818.1,1265.1 L818.9,1263.3 L819.8,1261.5 L820.6,1259.7 L821.5,1257.9 L822.4,1256.1 L823.2,1254.3 L824.1,1252.5 L824.9,1250.7 L825.8,1248.8 L826.6,1247.0 L827.5,1245.2 L828.3,1243.4 L829.2,1241.6 L830.0,1239.8 L830.8,1237.9 L831.7,1236.1 L832.5,1234.3 L833.3,1232.5 L834.1,1230.7 L835.0,1228.8 L835.8,1227.0 L836.6,1225.2 L837.4,1223.3 L838.2,1221.5 L839.0,1219.7 L839.8,1217.8 L840.6,1216.0 L841.4,1214.2 L842.1,1212.3 L842.9,1210.5 L843.7,1208.6 L844.5,1206.8 L845.2,1204.9 L846.0,1203.1 L846.8,1201.2 L847.5,1199.4 L848.3,1197.5 L849.0,1195.7 L849.8,1193.8 L850.5,1192.0 L851.2,1190.1 L852.0,1188.3 L852.7,1186.4 L853.4,1184.5 L854.1,1182.7 L854.9,1180.8 L855.6,1178.9 L856.3,1177.1 L857.0,1175.2 L857.7,1173.3 L858.4,1171.4 L859.1,1169.6 L859.8,1167.7 L860.5,1165.8 L861.1,1163.9 L861.8,1162.1 L862.5,1160.2 L863.2,1158.3 L863.8,1156.4 L864.5,1154.5 L865.2,1152.6 L865.8,1150.7 L866.5,1148.8 L867.1,1147.0 L867.8,1145.1 L868.4,1143.2 L869.0,1141.3 L869.7,1139.4 L870.3,1137.5 L870.9,1135.6 L871.6,1133.7 L872.2,1131.8 L872.8,1129.9 L873.4,1127.9 L874.0,1126.0 L874.6,1124.1 L875.2,1122.2 L875.8,1120.3 L876.4,1118.4 L877.0,1116.5 L877.5,1114.5 L878.1,1112.6 L878.7,1110.7 L879.3,1108.8 L879.8,1106.9 L880.4,1104.9 L880.9,1103.0 L881.5,1101.1 L882.1,1099.2 L882.6,1097.2 L883.1,1095.3 L883.7,1093.4 L884.2,1091.4 L884.8,1089.5 L885.3,1087.6 L885.8,1085.6 L886.4,1083.7 L886.9,1081.8 L887.4,1079.8 L888.0,1077.9 L888.5,1076.0 L889.1,1074.0 L889.6,1072.1 L890.2,1070.2 L890.7,1068.2 L891.3,1066.3 L891.8,1064.4 L892.4,1062.5 L893.0,1060.6 L893.5,1058.6 L894.1,1056.7 L894.7,1054.8 L895.3,1052.9 L895.9,1051.0 L896.5,1049.1 L897.1,1047.2 L897.8,1045.3 L898.4,1043.4 L899.0,1041.5 L899.7,1039.6 L900.4,1037.7 L901.0,1035.9 L901.7,1034.0 L902.4,1032.1 L903.1,1030.3 L903.9,1028.4 L904.6,1026.6 L905.4,1024.7 L906.1,1022.9 L906.9,1021.0 L907.7,1019.2 L908.5,1017.4 L909.3,1015.6 L910.1,1013.7 L910.9,1011.9 L911.7,1010.1 L912.5,1008.3 L913.4,1006.4 L914.2,1004.6 L915.0,1002.8 L915.8,1001.0 L916.6,999.1 L917.4,997.3 L918.2,995.4 L919.0,993.6 L919.8,991.8 L920.6,989.9 L921.4,988.0 L922.1,986.2 L922.8,984.3 L923.6,982.4 L924.3,980.5 L925.0,978.6 L925.7,976.8 L926.4,974.9 L927.1,973.0 L927.8,971.1 L928.6,969.2 L929.3,967.3 L930.0,965.4 L930.7,963.6 L931.5,961.7 L932.2,959.9 L933.0,958.0 L933.8,956.2 L934.5,954.3 L935.4,952.5 L936.2,950.7 L937.0,948.9 L937.9,947.1 L938.8,945.4 L939.7,943.6 L940.7,941.9 L941.7,940.2 L942.6,938.5 L943.6,936.8 L944.7,935.1 L945.7,933.4 L946.8,931.7 L947.9,930.1 L949.0,928.4 L950.2,926.8 L951.3,925.2 L952.5,923.6 L953.7,922.0 L954.9,920.4 L956.2,918.8 L957.4,917.2 L958.7,915.6 L960.0,914.0 L961.3,912.5 L962.7,910.9 L964.1,909.4 L965.5,907.9 L966.9,906.4 L968.4,905.0 L969.8,903.6 L971.4,902.3 L972.9,901.0 L974.5,899.8 L976.1,898.7 L977.8,897.6 L979.5,896.7 L981.3,895.8 L983.1,895.0 L984.9,894.3 L986.8,893.7 L988.7,893.2 L990.7,892.8 L992.7,892.6 L994.6,892.5 L996.6,892.5 L998.6,892.7 L1000.6,893.0 L1002.5,893.5 L1004.4,894.1 L1006.3,894.8 L1008.1,895.6 L1009.9,896.5 L1011.7,897.5 L1013.4,898.6 L1015.0,899.8 L1016.6,901.0 L1018.2,902.3 L1019.8,903.6 L1021.3,905.0 L1022.7,906.4 L1024.2,907.8 L1025.6,909.3 L1026.9,910.8 L1028.3,912.3 L1029.6,913.8 L1030.9,915.3 L1032.1,916.9 L1033.3,918.5 L1034.4,920.1 L1035.5,921.7 L1036.6,923.4 L1037.7,925.1 L1038.8,926.8 L1039.8,928.5 L1040.8,930.2 L1041.8,931.9 L1042.8,933.6 L1043.8,935.4 L1044.8,937.1 L1045.8,938.8 L1046.8,940.6 L1047.9,942.3 L1048.9,944.0 L1049.9,945.7 L1050.9,947.4 L1052.0,949.2 L1053.0,950.9 L1054.0,952.6 L1055.1,954.3 L1056.1,956.1 L1057.1,957.8 L1058.1,959.5 L1059.0,961.3 L1060.0,963.0 L1060.9,964.8 L1061.9,966.6 L1062.8,968.3 L1063.7,970.1 L1064.6,971.9 L1065.5,973.7 L1066.4,975.5 L1067.3,977.3 L1068.2,979.0 L1069.1,980.8 L1070.0,982.6 L1070.9,984.4 L1071.8,986.2 L1072.7,988.0 L1073.6,989.8 L1074.5,991.5 L1075.4,993.3 L1076.4,995.1 L1077.3,996.9 L1078.3,998.6 L1079.2,1000.4 L1080.2,1002.1 L1081.1,1003.9 L1082.1,1005.7 L1083.0,1007.4 L1084.0,1009.2 L1084.9,1011.0 L1085.8,1012.7 L1086.8,1014.5 L1087.7,1016.3 L1088.6,1018.1 L1089.6,1019.8 L1090.5,1021.6 L1091.5,1023.3 L1092.5,1025.0 L1093.6,1026.7 L1094.7,1028.4 L1095.8,1030.0 L1096.9,1031.6 L1098.2,1033.2 L1099.4,1034.8 L1100.7,1036.3 L1102.0,1037.8 L1103.3,1039.3 L1104.6,1040.8 L1105.9,1042.3 L1107.3,1043.8 L1108.6,1045.4 L1109.9,1046.9 L1111.2,1048.4 L1112.4,1049.9 L1113.7,1051.5 L1115.0,1053.1 L1116.2,1054.6 L1117.4,1056.2 L1118.7,1057.8 L1119.9,1059.4 L1121.1,1061.0 L1122.3,1062.6 L1123.5,1064.2 L1124.7,1065.8 L1125.9,1067.4 L1127.1,1069.0 L1128.3,1070.6 L1129.4,1072.3 L1130.6,1073.9 L1131.7,1075.5 L1132.9,1077.2 L1134.0,1078.8 L1135.1,1080.5 L1136.2,1082.1 L1137.3,1083.8 L1138.3,1085.5 L1139.3,1087.2 L1140.4,1089.0 L1141.4,1090.7 L1142.4,1092.4 L1143.4,1094.2 L1144.4,1095.9 L1145.4,1097.6 L1146.4,1099.4 L1147.4,1101.1 L1148.4,1102.8 L1149.4,1104.6 L1150.4,1106.3 L1151.4,1108.0 L1152.5,1109.7 L1153.5,1111.4 L1154.6,1113.1 L1155.7,1114.8 L1156.8,1116.5 L1157.9,1118.1 L1159.1,1119.8 L1160.2,1121.4 L1161.4,1123.0 L1162.6,1124.6 L1163.8,1126.2 L1165.0,1127.8 L1166.3,1129.4 L1167.5,1130.9 L1168.7,1132.5 L1170.0,1134.1 L1171.2,1135.7 L1172.4,1137.2 L1173.7,1138.8 L1174.9,1140.4 L1176.2,1141.9 L1177.4,1143.5 L1178.6,1145.1 L1179.9,1146.7 L1181.1,1148.2 L1182.3,1149.8 L1183.5,1151.4 L1184.7,1153.0 L1185.9,1154.6 L1187.1,1156.2 L1188.3,1157.8 L1189.5,1159.4 L1190.7,1161.0 L1191.9,1162.6 L1193.0,1164.3 L1194.2,1165.9 L1195.3,1167.6 L1196.5,1169.2 L1197.6,1170.8 L1198.8,1172.5 L1199.9,1174.1 L1201.1,1175.8 L1202.2,1177.4 L1203.4,1179.0 L1204.6,1180.6 L1205.8,1182.2 L1207.1,1183.8 L1208.3,1185.3 L1209.6,1186.9 L1210.9,1188.4 L1212.2,1189.9 L1213.5,1191.4 L1214.8,1192.9 L1216.1,1194.4 L1217.5,1195.9 L1218.8,1197.3 L1220.2,1198.8 L1221.6,1200.3 L1223.0,1201.7 L1224.4,1203.1 L1225.8,1204.6 L1227.2,1206.0 L1228.6,1207.4 L1230.0,1208.8 L1231.4,1210.2 L1232.8,1211.7 L1234.2,1213.1 L1235.6,1214.5 L1237.1,1215.9 L1238.5,1217.3 L1239.9,1218.7 L1241.3,1220.1 L1242.7,1221.6 L1244.1,1223.0 L1245.5,1224.4 L1246.9,1225.9 L1248.3,1227.3 L1249.7,1228.7 L1251.1,1230.2 L1252.5,1231.7 L1253.8,1233.1 L1255.2,1234.6 L1256.6,1236.0 L1257.9,1237.5 L1259.3,1239.0 L1260.6,1240.5 L1262.0,1241.9 L1263.3,1243.4 L1264.7,1244.9 L1266.0,1246.4 L1267.3,1247.9 L1268.7,1249.4 L1270.0,1250.9 L1271.3,1252.4 L1272.7,1253.9 L1274.0,1255.4 L1275.3,1256.9 L1276.6,1258.4 L1278.0,1259.9 L1279.3,1261.4 L1280.6,1262.9 L1281.9,1264.4 L1283.3,1265.9 L1284.6,1267.4 L1285.9,1268.9 L1287.2,1270.4 L1288.6,1271.9 L1289.9,1273.4 L1291.2,1274.9 L1292.5,1276.4 L1293.9,1277.9 L1295.2,1279.3 L1296.5,1280.8 L1297.9,1282.3 L1299.2,1283.8 L1300.6,1285.3 L1301.9,1286.8 L1303.3,1288.2 L1304.6,1289.7 L1306.0,1291.2 L1307.3,1292.6 L1308.7,1294.1 L1310.1,1295.6 L1311.5,1297.0 L1312.8,1298.5 L1314.2,1299.9 L1315.6,1301.3 L1317.0,1302.8 L1318.4,1304.2 L1319.8,1305.6 L1321.2,1307.0 L1322.6,1308.5 L1324.0,1309.9 L1325.5,1311.3 L1326.9,1312.7 L1328.3,1314.1 L1329.7,1315.5 L1331.1,1316.9 L1332.6,1318.3 L1334.0,1319.7 L1335.4,1321.1 L1336.9,1322.5 L1338.3,1323.9 L1339.7,1325.3 L1341.2,1326.7 L1342.6,1328.1 L1344.0,1329.5 L1345.4,1330.9 L1346.9,1332.3 L1348.3,1333.8 L1349.7,1335.2 L1351.1,1336.6 L1352.5,1338.0 L1353.9,1339.4 L1355.3,1340.9 L1356.7,1342.3 L1358.1,1343.7 L1359.5,1345.2 L1360.9,1346.6 L1362.3,1348.1 L1363.7,1349.5 L1365.1,1351.0 L1366.4,1352.4 L1367.8,1353.9 L1369.2,1355.4 L1370.6,1356.8 L1371.9,1358.3 L1373.3,1359.7 L1374.7,1361.1 L1376.1,1362.6 L1377.5,1364.0 L1379.0,1365.4 L1380.4,1366.7 L1381.9,1368.1 L1383.4,1369.4 L1384.9,1370.8 L1386.4,1372.1 L1388.0,1373.3 L1389.5,1374.6 L1391.1,1375.8 L1392.7,1377.0 L1394.4,1378.1 L1396.0,1379.3 L1397.7,1380.4 L1399.4,1381.4 L1401.1,1382.5 L1402.8,1383.5 L1404.6,1384.5 L1406.4,1385.4 L1408.1,1386.3 L1410.0,1387.2 L1411.8,1388.0 L1413.6,1388.8 L1415.5,1389.5 L1417.3,1390.2 L1419.2,1390.9 L1421.1,1391.5 L1423.0,1392.1 L1425.0,1392.6 L1426.9,1393.1 L1428.8,1393.6 L1430.8,1394.1 L1432.7,1394.6 L1434.7,1395.1 L1436.6,1395.6 L1438.5,1396.1 L1440.4,1396.7 L1442.3,1397.3 L1444.2,1397.9 L1446.1,1398.6 L1448.0,1399.3 L1449.8,1400.1 L1451.6,1400.9 L1453.5,1401.7 L1455.3,1402.5 L1457.1,1403.4 L1458.9,1404.3 L1460.7,1405.2 L1462.5,1406.1 L1464.3,1407.0 L1466.1,1408.0 L1467.8,1408.9 L1469.6,1409.9 L1471.3,1410.9 L1473.0,1412.0 L1474.7,1413.1 L1476.4,1414.1 L1478.1,1415.2 L1479.7,1416.4 L1481.3,1417.5 L1483.0,1418.7 L1484.6,1419.9 L1486.2,1421.1 L1487.7,1422.3 L1489.3,1423.6 L1490.8,1424.8 L1492.4,1426.1 L1493.9,1427.4 L1495.4,1428.7 L1496.9,1430.0 L1498.4,1431.3 L1499.9,1432.7 L1501.4,1434.0 L1502.9,1435.4 L1504.3,1436.7 L1505.8,1438.1 L1507.2,1439.5 L1508.7,1440.9 L1510.1,1442.3 L1511.6,1443.7 L1513.0,1445.1 L1514.5,1446.4 L1516.0,1447.8 L1517.4,1449.2 L1518.9,1450.5 L1520.4,1451.8 L1522.0,1453.1 L1523.5,1454.4 L1525.1,1455.6 L1526.7,1456.8 L1528.3,1458.0 L1529.9,1459.1 L1531.5,1460.3 L1533.2,1461.4 L1534.8,1462.5 L1536.5,1463.5 L1538.2,1464.6 L1539.9,1465.6 L1541.7,1466.6 L1543.4,1467.6 L1545.1,1468.5 L1546.9,1469.5 L1548.7,1470.4 L1550.5,1471.3 L1552.3,1472.2 L1554.1,1473.1 L1555.9,1474.0 L1557.7,1474.8 L1559.5,1475.6 L1561.4,1476.5 L1563.2,1477.3 L1565.1,1478.1 L1566.9,1478.9 L1568.8,1479.6 L1570.6,1480.4 L1572.5,1481.2 L1574.4,1481.9 L1576.2,1482.7 L1578.1,1483.4 L1580.0,1484.1 L1581.9,1484.9 L1583.7,1485.6 L1585.6,1486.3 L1587.5,1487.0 L1589.4,1487.7 L1591.2,1488.4 L1593.1,1489.1 L1595.0,1489.7 L1596.9,1490.4 L1598.8,1491.0 L1600.7,1491.7 L1602.6,1492.3 L1604.5,1492.9 L1606.4,1493.5 L1608.3,1494.1 L1610.2,1494.7 L1612.1,1495.3 L1614.0,1495.9 L1615.9,1496.4 L1617.8,1496.9 L1619.7,1497.5 L1621.7,1498.0 L1623.6,1498.4 L1625.5,1498.9 L1627.5,1499.4 L1629.4,1499.8 L1631.4,1500.2 L1633.3,1500.6 L1635.3,1501.0 L1637.2,1501.3 L1639.2,1501.7 L1641.2,1502.0 L1643.2,1502.3 L1645.2,1502.6 L1647.2,1502.9 L1649.1,1503.2 L1651.1,1503.4 L1653.1,1503.7 L1655.1,1503.9 L1657.1,1504.2 L1659.1,1504.4 L1661.1,1504.6 L1663.1,1504.9 L1665.1,1505.1 L1667.1,1505.4 L1669.1,1505.6 L1671.1,1505.8 L1673.1,1506.1 L1675.1,1506.3 L1677.1,1506.5 L1679.0,1506.8 L1681.0,1507.0 L1683.0,1507.2 L1685.0,1507.5 L1687.0,1507.7 L1689.0,1507.9 L1691.0,1508.1 L1693.0,1508.4 L1694.9,1508.6 L1696.9,1508.8 L1698.9,1509.0 L1700.9,1509.2 L1702.9,1509.4 L1704.9,1509.6 L1706.9,1509.8 L1708.8,1510.0 L1710.8,1510.2 L1712.8,1510.4 L1714.8,1510.6 L1716.8,1510.8 L1718.8,1511.0 L1720.8,1511.2 L1722.8,1511.4 L1724.7,1511.5 L1726.7,1511.7 L1728.7,1511.9 L1730.7,1512.0 L1732.7,1512.2 L1734.7,1512.3 L1736.7,1512.5 L1738.7,1512.6 L1740.7,1512.8 L1742.7,1512.9 L1744.7,1513.1 L1746.7,1513.2 L1748.7,1513.3 L1750.7,1513.5 L1752.7,1513.6 L1754.7,1513.7 L1756.7,1513.9 L1758.7,1514.0 L1760.7,1514.2 L1762.7,1514.3 L1764.7,1514.5 L1766.7,1514.6 L1768.7,1514.8 L1770.6,1515.0 L1772.6,1515.1 L1774.6,1515.3 L1776.6,1515.5 L1778.6,1515.7 L1780.6,1515.9 L1782.6,1516.2 L1784.6,1516.4 L1786.6,1516.7 L1788.5,1516.9 L1790.5,1517.2 L1792.5,1517.5 L1794.5,1517.8 L1796.4,1518.1 L1798.4,1518.5 L1800.4,1518.9 L1802.4,1519.2 L1804.3,1519.6 L1806.3,1520.0 L1808.2,1520.5 L1810.2,1520.9 L1812.1,1521.4 L1814.1,1521.8 L1816.0,1522.3 L1818.0,1522.8 L1819.9,1523.3 L1821.9,1523.8 L1823.8,1524.3 L1825.7,1524.8 L1827.7,1525.3 L1829.6,1525.9 L1831.6,1526.4 L1833.5,1526.9 L1835.4,1527.4 L1837.4,1527.8 L1839.3,1528.3 L1841.3,1528.8 L1843.2,1529.2 L1845.2,1529.6 L1847.1,1530.0 L1849.1,1530.3 L1851.0,1530.7 L1853.0,1531.0 L1855.0,1531.4 L1857.0,1531.7 L1858.9,1531.9 L1860.9,1532.2 L1862.9,1532.5 L1864.9,1532.7 L1866.9,1533.0 L1868.9,1533.2 L1870.9,1533.5 L1872.9,1533.7 L1874.8,1533.9 L1876.8,1534.1 L1878.8,1534.3 L1880.8,1534.5 L1882.8,1534.7 L1884.8,1534.9 L1886.8,1535.1 L1888.8,1535.3 L1890.8,1535.5 L1892.8,1535.7 L1894.8,1535.9 L1896.8,1536.1 L1898.8,1536.3 L1900.8,1536.5 L1902.7,1536.7 L1904.7,1536.9 L1906.7,1537.1 L1908.7,1537.4 L1910.7,1537.6 L1912.7,1537.8 L1914.7,1538.0 L1916.7,1538.2 L1918.7,1538.4 L1920.7,1538.6 L1922.6,1538.8 L1924.6,1539.0 L1926.6,1539.2 L1928.6,1539.4 L1930.6,1539.6 L1932.6,1539.8 L1934.6,1540.0 L1936.6,1540.2 L1938.6,1540.4 L1940.6,1540.6 L1942.5,1540.8 L1944.5,1541.0 L1946.5,1541.2 L1948.5,1541.4 L1950.5,1541.6 L1952.5,1541.8 L1954.5,1542.0 L1956.5,1542.2 L1958.5,1542.4 L1960.5,1542.6 L1962.5,1542.8 L1964.4,1543.0 L1966.4,1543.1 L1968.4,1543.3 L1970.4,1543.5 L1972.4,1543.7 L1974.4,1543.9 L1976.4,1544.1 L1978.4,1544.3 L1980.4,1544.5 L1982.4,1544.6 L1984.4,1544.8 L1986.4,1545.0 L1988.4,1545.2 L1990.3,1545.4 L1992.3,1545.5 L1994.3,1545.7 L1996.3,1545.9 L1998.3,1546.1 L2000.3,1546.3 L2002.3,1546.4 L2004.3,1546.6 L2006.3,1546.8 L2008.3,1546.9 L2010.3,1547.1 L2012.3,1547.3 L2014.3,1547.4 L2016.3,1547.6 L2018.3,1547.8 L2020.2,1547.9 L2022.2,1548.1 L2024.2,1548.3 L2026.2,1548.4 L2028.2,1548.6 L2030.2,1548.7 L2032.2,1548.9 L2034.2,1549.0 L2036.2,1549.2 L2038.2,1549.3 L2040.2,1549.5 L2042.2,1549.6 L2044.2,1549.8 L2046.2,1549.9 L2048.2,1550.1 L2050.2,1550.2 L2052.2,1550.4 L2054.2,1550.5 L2056.2,1550.6 L2058.2,1550.8 L2060.2,1550.9 L2062.2,1551.0 L2064.1,1551.2 L2066.1,1551.3 L2068.1,1551.4 L2070.1,1551.6 L2072.1,1551.7 L2074.1,1551.8 L2076.1,1552.0 L2078.1,1552.1 L2080.1,1552.2 L2082.1,1552.3 L2084.1,1552.5 L2086.1,1552.6 L2088.1,1552.7 L2090.1,1552.9 L2092.1,1553.0 L2094.1,1553.1 L2096.1,1553.3 L2098.1,1553.4 L2100.1,1553.5 L2102.1,1553.7 L2104.1,1553.8 L2106.1,1553.9 L2108.1,1554.1 L2110.1,1554.2 L2112.1,1554.3 L2114.1,1554.5 L2116.1,1554.6 L2118.1,1554.8 L2120.1,1554.9 L2122.0,1555.1 L2124.0,1555.3 L2126.0,1555.4 L2128.0,1555.6 L2130.0,1555.7 L2132.0,1555.9 L2134.0,1556.1 L2136.0,1556.2 L2138.0,1556.4"/>
<path stroke="#ff00ff" d="M214.0,1569.8 L215.9,1569.2 L217.8,1568.6 L219.6,1567.9 L221.5,1567.3 L223.4,1566.6 L225.3,1566.0 L227.1,1565.3 L229.0,1564.7 L230.9,1564.0 L232.8,1563.4 L234.7,1562.7 L236.6,1562.1 L238.5,1561.4 L240.4,1560.8 L242.3,1560.1 L244.2,1559.5 L246.2,1558.9 L248.1,1558.2 L250.0,1557.6 L251.9,1557.0 L253.9,1556.4 L255.8,1555.9 L257.7,1555.3 L259.7,1554.8 L261.6,1554.2 L263.5,1553.7 L265.5,1553.2 L267.4,1552.7 L269.4,1552.2 L271.3,1551.8 L273.3,1551.3 L275.2,1550.9 L277.2,1550.5 L279.2,1550.2 L281.1,1549.8 L283.1,1549.5 L285.1,1549.2 L287.0,1548.9 L289.0,1548.7 L291.0,1548.5 L293.0,1548.3 L294.9,1548.1 L296.9,1548.0 L298.9,1547.9 L300.9,1547.8 L302.9,1547.8 L304.9,1547.8 L306.9,1547.8 L308.9,1547.8 L310.9,1547.8 L312.9,1547.9 L314.9,1548.0 L316.9,1548.0 L318.9,1548.1 L320.9,1548.2 L322.9,1548.3 L324.9,1548.5 L326.9,1548.6 L328.9,1548.7 L330.9,1548.8 L332.9,1548.9 L334.9,1549.0 L336.9,1549.1 L338.9,1549.2 L340.9,1549.2 L342.9,1549.3 L344.9,1549.3 L346.9,1549.4 L348.9,1549.4 L350.9,1549.5 L352.9,1549.5 L354.9,1549.5 L356.9,1549.5 L358.9,1549.5 L360.9,1549.5 L362.9,1549.5 L364.9,1549.5 L366.9,1549.5 L368.9,1549.4 L370.9,1549.4 L372.9,1549.4 L374.9,1549.3 L376.9,1549.3 L378.9,1549.2 L380.9,1549.2 L382.9,1549.1 L384.9,1549.0 L386.9,1549.0 L388.9,1548.9 L390.9,1548.8 L392.9,1548.7 L394.9,1548.7 L396.9,1548.6 L398.9,1548.5 L400.9,1548.4 L402.9,1548.3 L404.9,1548.2 L406.9,1548.1 L408.9,1548.0 L410.9,1547.9 L412.9,1547.7 L414.9,1547.6 L416.9,1547.5 L418.9,1547.4 L420.9,1547.3 L422.9,1547.2 L424.9,1547.0 L426.9,1546.9 L428.9,1546.8 L430.9,1546.7 L432.9,1546.6 L434.9,1546.5 L436.9,1546.3 L438.9,1546.2 L440.9,1546.1 L442.9,1546.0 L444.9,1545.9 L446.9,1545.7 L448.9,1545.6 L450.9,1545.5 L452.9,1545.4 L454.8,1545.3 L456.8,1545.2 L458.8,1545.1 L460.8,1545.0 L462.8,1544.9 L464.8,1544.8 L466.8,1544.7 L468.8,1544.6 L470.8,1544.5 L472.8,1544.4 L474.8,1544.3 L476.8,1544.2 L478.8,1544.2 L480.8,1544.1 L482.8,1544.0 L484.8,1544.0 L486.8,1543.9 L488.8,1543.8 L490.8,1543.8 L492.8,1543.7 L494.8,1543.7 L496.8,1543.7 L498.8,1543.6 L500.8,1543.6 L502.8,1543.6 L504.8,1543.6 L506.8,1543.6 L508.8,1543.6 L510.8,1543.6 L512.8,1543.6 L514.8,1543.6 L516.8,1543.7 L518.8,1543.7 L520.8,1543.7 L522.8,1543.8 L524.8,1543.8 L526.8,1543.9 L528.8,1544.0 L530.8,1544.0 L532.8,1544.1 L534.8,1544.2 L536.8,1544.2 L538.8,1544.3 L540.8,1544.4 L542.8,1544.4 L544.8,1544.5 L546.7,1544.6 L548.7,1544.7 L550.7,1544.7 L552.7,1544.8 L554.7,1544.9 L556.7,1544.9 L558.7,1545.0 L560.7,1545.0 L562.7,1545.1 L564.7,1545.1 L566.8,1545.2 L568.8,1545.2 L570.8,1545.2 L572.8,1545.3 L574.8,1545.3 L576.8,1545.3 L578.8,1545.3 L580.8,1545.3 L582.8,1545.3 L584.8,1545.3 L586.8,1545.2 L588.8,1545.2 L590.8,1545.1 L592.8,1545.1 L594.8,1545.0 L596.8,1544.9 L598.8,1544.8 L600.8,1544.7 L602.8,1544.6 L604.8,1544.5 L606.8,1544.3 L608.8,1544.2 L610.8,1544.0 L612.8,1543.8 L614.8,1543.6 L616.8,1543.4 L618.8,1543.1 L620.8,1542.9 L622.8,1542.6 L624.7,1542.3 L626.7,1542.0 L628.7,1541.7 L630.7,1541.4 L632.7,1541.0 L634.6,1540.6 L636.6,1540.3 L638.6,1539.9 L640.5,1539.4 L642.5,1539.0 L644.4,1538.5 L646.3,1538.1 L648.3,1537.6 L650.2,1537.0 L652.1,1536.5 L654.0,1536.0 L655.9,1535.4 L657.8,1534.8 L659.7,1534.2 L661.6,1533.5 L663.5,1532.9 L665.4,1532.2 L667.2,1531.5 L669.1,1530.8 L670.9,1530.0 L672.8,1529.3 L674.6,1528.5 L676.5,1527.8 L678.3,1527.0 L680.1,1526.2 L682.0,1525.4 L683.8,1524.6 L685.6,1523.8 L687.4,1523.0 L689.3,1522.2 L691.1,1521.4 L693.0,1520.6 L694.8,1519.8 L696.6,1519.1 L698.5,1518.3 L700.4,1517.5 L702.2,1516.8 L704.1,1516.0 L706.0,1515.2 L707.8,1514.5 L709.7,1513.7 L711.6,1513.0 L713.4,1512.2 L715.3,1511.5 L717.2,1510.7 L719.0,1510.0 L720.9,1509.2 L722.8,1508.5 L724.6,1507.7 L726.5,1506.9 L728.3,1506.1 L730.1,1505.3 L732.0,1504.5 L733.8,1503.6 L735.6,1502.8 L737.4,1501.9 L739.2,1501.0 L740.9,1500.1 L742.7,1499.2 L744.4,1498.2 L746.2,1497.2 L747.9,1496.2 L749.6,1495.2 L751.3,1494.2 L753.0,1493.1 L754.6,1492.0 L756.3,1490.9 L757.9,1489.8 L759.5,1488.7 L761.1,1487.5 L762.7,1486.4 L764.3,1485.2 L765.9,1484.0 L767.5,1482.7 L769.1,1481.5 L770.6,1480.3 L772.2,1479.0 L773.7,1477.7 L775.2,1476.4 L776.7,1475.1 L778.3,1473.8 L779.8,1472.5 L781.3,1471.2 L782.8,1469.9 L784.3,1468.5 L785.8,1467.2 L787.2,1465.8 L788.7,1464.4 L790.2,1463.1 L791.7,1461.7 L793.1,1460.3 L794.6,1458.9 L796.1,1457.6 L797.5,1456.2 L799.0,1454.8 L800.4,1453.4 L801.9,1452.0 L803.4,1450.6 L804.8,1449.2 L806.3,1447.8 L807.7,1446.5 L809.2,1445.1 L810.7,1443.7 L812.1,1442.3 L813.6,1441.0 L815.1,1439.6 L816.6,1438.3 L818.0,1436.9 L819.5,1435.6 L821.0,1434.2 L822.5,1432.9 L824.0,1431.6 L825.5,1430.3 L827.0,1429.0 L828.5,1427.7 L830.0,1426.4 L831.5,1425.1 L833.1,1423.8 L834.6,1422.5 L836.1,1421.3 L837.7,1420.0 L839.2,1418.8 L840.8,1417.5 L842.3,1416.3 L843.9,1415.0 L845.4,1413.8 L847.0,1412.6 L848.6,1411.3 L850.1,1410.1 L851.7,1408.9 L853.3,1407.7 L854.9,1406.5 L856.5,1405.3 L858.1,1404.1 L859.7,1402.9 L861.4,1401.8 L863.0,1400.6 L864.6,1399.4 L866.3,1398.3 L867.9,1397.1 L869.6,1396.0 L871.2,1394.8 L872.9,1393.7 L874.6,1392.6 L876.3,1391.5 L878.0,1390.4 L879.7,1389.4 L881.4,1388.4 L883.1,1387.3 L884.9,1386.4 L886.7,1385.4 L888.4,1384.5 L890.2,1383.6 L892.0,1382.7 L893.8,1381.9 L895.6,1381.1 L897.5,1380.3 L899.3,1379.5 L901.2,1378.8 L903.0,1378.1 L904.9,1377.4 L906.8,1376.7 L908.7,1376.0 L910.5,1375.4 L912.4,1374.8 L914.4,1374.1 L916.3,1373.5 L918.2,1373.0 L920.1,1372.4 L922.0,1371.8 L923.9,1371.2 L925.9,1370.7 L927.8,1370.1 L929.7,1369.6 L931.7,1369.1 L933.6,1368.5 L935.5,1368.0 L937.5,1367.4 L939.4,1366.9 L941.3,1366.3 L943.3,1365.8 L945.2,1365.2 L947.1,1364.7 L949.0,1364.1 L950.9,1363.5 L952.8,1362.9 L954.7,1362.3 L956.6,1361.7 L958.5,1361.1 L960.4,1360.4 L962.2,1359.7 L964.1,1359.1 L965.9,1358.4 L967.8,1357.6 L969.6,1356.9 L971.5,1356.2 L973.3,1355.4 L975.2,1354.6 L977.0,1353.9 L978.9,1353.1 L980.7,1352.3 L982.6,1351.5 L984.5,1350.6 L986.3,1349.8 L988.2,1349.0 L990.1,1348.2 L992.0,1347.4 L993.9,1346.6 L995.8,1345.9 L997.7,1345.3 L999.6,1344.7 L1001.5,1344.2 L1003.5,1343.8 L1005.4,1343.4 L1007.4,1343.2 L1009.3,1343.0 L1011.3,1342.9 L1013.2,1342.8 L1015.2,1342.9 L1017.2,1343.0 L1019.1,1343.2 L1021.1,1343.4 L1023.1,1343.7 L1025.0,1344.1 L1027.0,1344.5 L1028.9,1345.0 L1030.9,1345.5 L1032.8,1346.1 L1034.7,1346.7 L1036.6,1347.4 L1038.5,1348.1 L1040.4,1348.8 L1042.3,1349.6 L1044.2,1350.4 L1046.0,1351.2 L1047.8,1352.1 L1049.7,1353.0 L1051.5,1353.9 L1053.3,1354.8 L1055.1,1355.7 L1056.9,1356.6 L1058.7,1357.6 L1060.4,1358.5 L1062.2,1359.5 L1064.0,1360.4 L1065.7,1361.4 L1067.5,1362.3 L1069.3,1363.3 L1071.1,1364.2 L1072.9,1365.1 L1074.6,1366.0 L1076.4,1366.9 L1078.2,1367.7 L1080.0,1368.5 L1081.9,1369.3 L1083.7,1370.1 L1085.5,1370.8 L1087.4,1371.5 L1089.2,1372.1 L1091.1,1372.7 L1093.0,1373.3 L1095.0,1373.8 L1096.9,1374.3 L1098.9,1374.7 L1100.8,1375.0 L1102.8,1375.3 L1104.8,1375.6 L1106.8,1375.9 L1108.8,1376.1 L1110.9,1376.3 L1112.9,1376.5 L1114.9,1376.7 L1116.9,1376.8 L1118.9,1377.0 L1121.0,1377.1 L1123.0,1377.2 L1125.0,1377.4 L1127.0,1377.6 L1128.9,1377.8 L1130.9,1378.0 L1132.8,1378.4 L1134.7,1378.8 L1136.6,1379.2 L1138.5,1379.8 L1140.3,1380.5 L1142.2,1381.2 L1144.0,1382.0 L1145.8,1382.8 L1147.6,1383.7 L1149.4,1384.6 L1151.2,1385.5 L1153.0,1386.4 L1154.8,1387.3 L1156.6,1388.2 L1158.5,1389.0 L1160.3,1389.9 L1162.2,1390.6 L1164.0,1391.4 L1165.9,1392.1 L1167.8,1392.8 L1169.7,1393.4 L1171.6,1394.1 L1173.5,1394.7 L1175.4,1395.4 L1177.2,1396.0 L1179.1,1396.7 L1181.0,1397.4 L1182.9,1398.1 L1184.7,1398.9 L1186.5,1399.7 L1188.4,1400.6 L1190.2,1401.4 L1192.0,1402.3 L1193.8,1403.1 L1195.6,1404.0 L1197.4,1404.8 L1199.2,1405.7 L1201.0,1406.5 L1202.9,1407.3 L1204.7,1408.0 L1206.6,1408.7 L1208.4,1409.4 L1210.3,1410.0 L1212.3,1410.5 L1214.2,1411.1 L1216.1,1411.6 L1218.1,1412.0 L1220.0,1412.5 L1222.0,1413.0 L1223.9,1413.4 L1225.9,1413.9 L1227.8,1414.4 L1229.8,1414.9 L1231.7,1415.4 L1233.6,1415.9 L1235.5,1416.5 L1237.4,1417.1 L1239.3,1417.8 L1241.2,1418.4 L1243.1,1419.1 L1245.0,1419.8 L1246.8,1420.5 L1248.7,1421.2 L1250.6,1421.9 L1252.5,1422.6 L1254.3,1423.3 L1256.2,1423.9 L1258.1,1424.6 L1260.0,1425.3 L1261.9,1426.0 L1263.8,1426.6 L1265.7,1427.3 L1267.5,1427.9 L1269.4,1428.6 L1271.3,1429.2 L1273.2,1429.9 L1275.1,1430.5 L1277.0,1431.1 L1278.9,1431.7 L1280.9,1432.4 L1282.8,1433.0 L1284.7,1433.6 L1286.6,1434.2 L1288.5,1434.8 L1290.4,1435.4 L1292.3,1436.0 L1294.2,1436.6 L1296.1,1437.2 L1298.0,1437.8 L1299.9,1438.4 L1301.8,1439.0 L1303.7,1439.6 L1305.6,1440.2 L1307.6,1440.8 L1309.5,1441.4 L1311.4,1442.0 L1313.3,1442.6 L1315.2,1443.2 L1317.1,1443.8 L1319.0,1444.5 L1320.8,1445.1 L1322.7,1445.7 L1324.6,1446.3 L1326.5,1447.0 L1328.4,1447.6 L1330.3,1448.3 L1332.2,1448.9 L1334.0,1449.6 L1335.9,1450.3 L1337.8,1451.0 L1339.7,1451.7 L1341.5,1452.4 L1343.4,1453.1 L1345.3,1453.8 L1347.1,1454.6 L1349.0,1455.4 L1350.8,1456.1 L1352.7,1456.9 L1354.5,1457.7 L1356.4,1458.5 L1358.2,1459.3 L1360.1,1460.2 L1361.9,1461.0 L1363.7,1461.8 L1365.6,1462.6 L1367.4,1463.5 L1369.3,1464.3 L1371.1,1465.1 L1373.0,1465.9 L1374.8,1466.7 L1376.7,1467.4 L1378.5,1468.2 L1380.4,1468.9 L1382.2,1469.6 L1384.1,1470.3 L1386.0,1471.0 L1387.9,1471.6 L1389.7,1472.2 L1391.6,1472.8 L1393.5,1473.4 L1395.4,1473.9 L1397.4,1474.4 L1399.3,1474.8 L1401.2,1475.2 L1403.2,1475.5 L1405.1,1475.8 L1407.1,1476.1 L1409.0,1476.3 L1411.0,1476.5 L1413.0,1476.6 L1415.0,1476.6 L1417.0,1476.7 L1419.1,1476.7 L1421.1,1476.6 L1423.1,1476.6 L1425.1,1476.5 L1427.2,1476.5 L1429.2,1476.4 L1431.2,1476.3 L1433.3,1476.3 L1435.3,1476.2 L1437.3,1476.2 L1439.3,1476.2 L1441.3,1476.2 L1443.3,1476.3 L1445.3,1476.3 L1447.3,1476.4 L1449.3,1476.5 L1451.3,1476.6 L1453.3,1476.8 L1455.3,1477.0 L1457.3,1477.2 L1459.3,1477.4 L1461.2,1477.7 L1463.2,1478.0 L1465.2,1478.4 L1467.1,1478.7 L1469.1,1479.1 L1471.0,1479.6 L1473.0,1480.1 L1474.9,1480.6 L1476.8,1481.1 L1478.8,1481.7 L1480.7,1482.3 L1482.6,1482.9 L1484.4,1483.6 L1486.3,1484.3 L1488.2,1485.0 L1490.0,1485.8 L1491.8,1486.5 L1493.7,1487.4 L1495.5,1488.2 L1497.3,1489.1 L1499.0,1490.1 L1500.8,1491.0 L1502.5,1492.0 L1504.3,1493.0 L1506.0,1494.1 L1507.7,1495.1 L1509.4,1496.2 L1511.1,1497.3 L1512.8,1498.3 L1514.4,1499.4 L1516.1,1500.5 L1517.8,1501.6 L1519.5,1502.7 L1521.2,1503.8 L1522.9,1504.8 L1524.6,1505.8 L1526.3,1506.8 L1528.1,1507.8 L1529.8,1508.8 L1531.6,1509.7 L1533.4,1510.5 L1535.2,1511.4 L1537.0,1512.2 L1538.9,1512.9 L1540.7,1513.6 L1542.6,1514.3 L1544.5,1514.9 L1546.4,1515.5 L1548.3,1516.1 L1550.2,1516.6 L1552.2,1517.1 L1554.1,1517.6 L1556.1,1518.0 L1558.1,1518.5 L1560.0,1518.9 L1562.0,1519.3 L1564.0,1519.6 L1566.0,1520.0 L1568.0,1520.3 L1570.0,1520.6 L1572.0,1521.0 L1574.0,1521.3 L1576.0,1521.6 L1578.0,1521.8 L1580.0,1522.1 L1582.0,1522.4 L1583.9,1522.7 L1585.9,1523.0 L1587.9,1523.2 L1589.9,1523.5 L1591.8,1523.8 L1593.8,1524.1 L1595.8,1524.3 L1597.8,1524.6 L1599.7,1524.9 L1601.7,1525.1 L1603.7,1525.4 L1605.6,1525.7 L1607.6,1526.0 L1609.6,1526.2 L1611.5,1526.5 L1613.5,1526.8 L1615.5,1527.1 L1617.5,1527.3 L1619.4,1527.6 L1621.4,1527.9 L1623.4,1528.2 L1625.4,1528.5 L1627.4,1528.7 L1629.3,1529.0 L1631.3,1529.3 L1633.3,1529.6 L1635.3,1529.8 L1637.3,1530.1 L1639.3,1530.4 L1641.3,1530.6 L1643.2,1530.9 L1645.2,1531.1 L1647.2,1531.4 L1649.2,1531.6 L1651.2,1531.8 L1653.2,1532.1 L1655.2,1532.3 L1657.2,1532.5 L1659.2,1532.7 L1661.2,1532.9 L1663.2,1533.1 L1665.2,1533.3 L1667.2,1533.5 L1669.2,1533.6 L1671.2,1533.8 L1673.1,1533.9 L1675.1,1534.1 L1677.1,1534.2 L1679.1,1534.4 L1681.1,1534.5 L1683.1,1534.6 L1685.1,1534.8 L1687.1,1534.9 L1689.1,1535.0 L1691.1,1535.1 L1693.1,1535.2 L1695.1,1535.3 L1697.1,1535.4 L1699.1,1535.5 L1701.1,1535.5 L1703.1,1535.6 L1705.1,1535.7 L1707.1,1535.8 L1709.1,1535.9 L1711.1,1535.9 L1713.1,1536.0 L1715.1,1536.1 L1717.1,1536.1 L1719.1,1536.2 L1721.1,1536.3 L1723.1,1536.3 L1725.1,1536.4 L1727.1,1536.4 L1729.1,1536.5 L1731.1,1536.5 L1733.1,1536.6 L1735.1,1536.7 L1737.1,1536.7 L1739.1,1536.8 L1741.1,1536.8 L1743.1,1536.9 L1745.1,1537.0 L1747.1,1537.0 L1749.1,1537.1 L1751.1,1537.2 L1753.1,1537.2 L1755.1,1537.3 L1757.1,1537.4 L1759.1,1537.5 L1761.1,1537.5 L1763.1,1537.6 L1765.1,1537.7 L1767.1,1537.8 L1769.1,1537.9 L1771.1,1538.0 L1773.1,1538.1 L1775.1,1538.2 L1777.1,1538.3 L1779.1,1538.4 L1781.1,1538.6 L1783.0,1538.7 L1785.0,1538.8 L1787.0,1539.0 L1789.0,1539.1 L1791.0,1539.3 L1793.0,1539.4 L1795.0,1539.6 L1797.0,1539.8 L1799.0,1539.9 L1801.0,1540.1 L1803.0,1540.3 L1804.9,1540.5 L1806.9,1540.7 L1808.9,1541.0 L1810.9,1541.2 L1812.9,1541.4 L1814.9,1541.7 L1816.8,1541.9 L1818.8,1542.2 L1820.8,1542.5 L1822.8,1542.7 L1824.8,1543.0 L1826.8,1543.3 L1828.7,1543.6 L1830.7,1544.0 L1832.7,1544.3 L1834.7,1544.6 L1836.6,1544.9 L1838.6,1545.2 L1840.6,1545.5 L1842.6,1545.8 L1844.6,1546.1 L1846.6,1546.4 L1848.5,1546.7 L1850.5,1547.0 L1852.5,1547.2 L1854.5,1547.5 L1856.5,1547.8 L1858.4,1548.0 L1860.4,1548.3 L1862.4,1548.5 L1864.4,1548.7 L1866.4,1549.0 L1868.4,1549.2 L1870.4,1549.4 L1872.4,1549.6 L1874.3,1549.8 L1876.3,1550.0 L1878.3,1550.1 L1880.3,1550.3 L1882.3,1550.5 L1884.3,1550.6 L1886.3,1550.8 L1888.3,1550.9 L1890.3,1551.0 L1892.3,1551.1 L1894.3,1551.3 L1896.3,1551.4 L1898.3,1551.5 L1900.3,1551.6 L1902.3,1551.6 L1904.3,1551.7 L1906.3,1551.8 L1908.3,1551.9 L1910.3,1552.0 L1912.3,1552.1 L1914.3,1552.1 L1916.3,1552.2 L1918.3,1552.3 L1920.3,1552.4 L1922.3,1552.5 L1924.3,1552.6 L1926.3,1552.7 L1928.3,1552.8 L1930.3,1552.9 L1932.3,1553.0 L1934.3,1553.1 L1936.2,1553.2 L1938.2,1553.3 L1940.2,1553.5 L1942.2,1553.6 L1944.2,1553.7 L1946.2,1553.9 L1948.2,1554.0 L1950.2,1554.1 L1952.2,1554.3 L1954.2,1554.4 L1956.2,1554.6 L1958.2,1554.7 L1960.2,1554.8 L1962.2,1555.0 L1964.2,1555.1 L1966.2,1555.3 L1968.2,1555.4 L1970.2,1555.5 L1972.2,1555.7 L1974.2,1555.8 L1976.2,1555.9 L1978.2,1556.0 L1980.2,1556.1 L1982.2,1556.3 L1984.1,1556.4 L1986.1,1556.5 L1988.1,1556.6 L1990.1,1556.7 L1992.1,1556.8 L1994.1,1556.9 L1996.1,1557.0 L1998.1,1557.1 L2000.1,1557.2 L2002.1,1557.3 L2004.1,1557.4 L2006.1,1557.5 L2008.1,1557.6 L2010.1,1557.7 L2012.1,1557.8 L2014.1,1557.9 L2016.1,1557.9 L2018.1,1558.0 L2020.1,1558.1 L2022.1,1558.2 L2024.1,1558.3 L2026.1,1558.4 L2028.1,1558.4 L2030.1,1558.5 L2032.1,1558.6 L2034.1,1558.7 L2036.1,1558.7 L2038.1,1558.8 L2040.1,1558.9 L2042.1,1559.0 L2044.1,1559.0 L2046.1,1559.1 L2048.1,1559.2 L2050.1,1559.3 L2052.1,1559.3 L2054.1,1559.4 L2056.1,1559.5 L2058.1,1559.6 L2060.1,1559.6 L2062.1,1559.7 L2064.1,1559.8 L2066.1,1559.9 L2068.1,1559.9 L2070.1,1560.0 L2072.1,1560.1 L2074.1,1560.2 L2076.1,1560.3 L2078.1,1560.3 L2080.1,1560.4 L2082.1,1560.5 L2084.1,1560.6 L2086.1,1560.7 L2088.1,1560.8 L2090.1,1560.8 L2092.1,1560.9 L2094.1,1561.0 L2096.1,1561.1 L2098.1,1561.2 L2100.1,1561.3 L2102.1,1561.4 L2104.1,1561.5 L2106.1,1561.6 L2108.1,1561.7 L2110.0,1561.8 L2112.0,1561.9 L2114.0,1562.0 L2116.0,1562.1 L2118.0,1562.2 L2120.0,1562.3 L2122.0,1562.5 L2124.0,1562.6 L2126.0,1562.7 L2128.0,1562.8 L2130.0,1563.0 L2132.0,1563.1 L2134.0,1563.2 L2136.0,1563.4 L2138.0,1563.5"/>
<path stroke="#008000" d="M214.0,1570.5 L215.9,1569.9 L217.7,1569.3 L219.6,1568.7 L221.5,1568.0 L223.4,1567.4 L225.2,1566.7 L227.1,1566.0 L229.0,1565.3 L230.9,1564.6 L232.7,1563.9 L234.6,1563.2 L236.5,1562.5 L238.4,1561.8 L240.3,1561.1 L242.2,1560.5 L244.1,1559.8 L246.0,1559.1 L247.9,1558.4 L249.8,1557.7 L251.7,1557.1 L253.6,1556.4 L255.5,1555.8 L257.5,1555.2 L259.4,1554.5 L261.3,1554.0 L263.2,1553.4 L265.2,1552.8 L267.1,1552.3 L269.0,1551.8 L271.0,1551.3 L272.9,1550.8 L274.9,1550.4 L276.8,1549.9 L278.8,1549.6 L280.7,1549.2 L282.7,1548.9 L284.6,1548.6 L286.6,1548.3 L288.6,1548.1 L290.5,1547.9 L292.5,1547.7 L294.5,1547.6 L296.5,1547.6 L298.5,1547.5 L300.4,1547.5 L302.4,1547.6 L304.4,1547.6 L306.4,1547.7 L308.4,1547.9 L310.4,1548.0 L312.4,1548.2 L314.4,1548.4 L316.4,1548.6 L318.4,1548.8 L320.4,1549.0 L322.4,1549.2 L324.4,1549.5 L326.4,1549.7 L328.5,1549.9 L330.5,1550.1 L332.5,1550.3 L334.5,1550.5 L336.5,1550.6 L338.5,1550.8 L340.5,1550.9 L342.5,1551.0 L344.5,1551.1 L346.5,1551.2 L348.5,1551.3 L350.5,1551.3 L352.5,1551.4 L354.5,1551.4 L356.5,1551.4 L358.5,1551.4 L360.5,1551.4 L362.5,1551.4 L364.5,1551.4 L366.5,1551.3 L368.4,1551.3 L370.4,1551.2 L372.4,1551.1 L374.4,1551.1 L376.4,1551.0 L378.4,1550.9 L380.4,1550.8 L382.4,1550.7 L384.4,1550.6 L386.4,1550.5 L388.4,1550.3 L390.4,1550.2 L392.4,1550.1 L394.3,1550.0 L396.3,1549.8 L398.3,1549.7 L400.3,1549.6 L402.3,1549.4 L404.3,1549.3 L406.3,1549.1 L408.3,1549.0 L410.3,1548.9 L412.3,1548.7 L414.3,1548.6 L416.3,1548.5 L418.3,1548.4 L420.3,1548.2 L422.3,1548.1 L424.3,1548.0 L426.3,1547.9 L428.3,1547.8 L430.3,1547.6 L432.3,1547.5 L434.3,1547.4 L436.3,1547.3 L438.3,1547.2 L440.3,1547.1 L442.3,1547.0 L444.3,1546.9 L446.3,1546.9 L448.3,1546.8 L450.3,1546.7 L452.3,1546.6 L454.3,1546.5 L456.3,1546.5 L458.3,1546.4 L460.3,1546.3 L462.3,1546.3 L464.3,1546.2 L466.3,1546.1 L468.3,1546.1 L470.3,1546.0 L472.3,1546.0 L474.3,1545.9 L476.3,1545.9 L478.3,1545.9 L480.3,1545.8 L482.3,1545.8 L484.3,1545.8 L486.3,1545.8 L488.3,1545.8 L490.3,1545.7 L492.3,1545.7 L494.3,1545.7 L496.3,1545.7 L498.3,1545.7 L500.3,1545.7 L502.3,1545.8 L504.3,1545.8 L506.3,1545.8 L508.3,1545.8 L510.3,1545.9 L512.3,1545.9 L514.3,1545.9 L516.3,1546.0 L518.3,1546.0 L520.3,1546.1 L522.3,1546.1 L524.3,1546.2 L526.3,1546.2 L528.3,1546.3 L530.3,1546.3 L532.2,1546.4 L534.2,1546.4 L536.2,1546.4 L538.2,1546.5 L540.2,1546.5 L542.2,1546.5 L544.2,1546.5 L546.2,1546.5 L548.2,1546.5 L550.2,1546.5 L552.2,1546.4 L554.2,1546.4 L556.2,1546.4 L558.2,1546.3 L560.2,1546.3 L562.2,1546.2 L564.2,1546.1 L566.2,1546.0 L568.2,1546.0 L570.2,1545.9 L572.2,1545.8 L574.2,1545.7 L576.2,1545.5 L578.2,1545.4 L580.2,1545.3 L582.2,1545.1 L584.2,1545.0 L586.2,1544.8 L588.2,1544.6 L590.2,1544.4 L592.2,1544.2 L594.2,1544.0 L596.2,1543.7 L598.1,1543.4 L600.1,1543.1 L602.1,1542.8 L604.0,1542.4 L606.0,1542.1 L608.0,1541.7 L609.9,1541.3 L611.9,1540.8 L613.8,1540.4 L615.8,1539.9 L617.7,1539.4 L619.6,1538.9 L621.6,1538.4 L623.5,1537.9 L625.5,1537.4 L627.4,1536.9 L629.3,1536.4 L631.3,1535.8 L633.2,1535.3 L635.1,1534.8 L637.1,1534.2 L639.0,1533.7 L640.9,1533.2 L642.8,1532.6 L644.8,1532.1 L646.7,1531.5 L648.6,1531.0 L650.5,1530.4 L652.4,1529.8 L654.4,1529.2 L656.3,1528.6 L658.2,1528.0 L660.1,1527.4 L662.0,1526.8 L663.9,1526.1 L665.7,1525.5 L667.6,1524.8 L669.5,1524.1 L671.4,1523.4 L673.2,1522.7 L675.1,1522.0 L677.0,1521.2 L678.8,1520.5 L680.7,1519.7 L682.5,1518.9 L684.3,1518.1 L686.2,1517.3 L688.0,1516.5 L689.8,1515.7 L691.6,1514.9 L693.4,1514.0 L695.3,1513.1 L697.1,1512.3 L698.8,1511.4 L700.6,1510.5 L702.4,1509.6 L704.2,1508.6 L706.0,1507.7 L707.7,1506.8 L709.5,1505.8 L711.2,1504.8 L713.0,1503.9 L714.7,1502.9 L716.5,1501.9 L718.2,1500.8 L719.9,1499.8 L721.6,1498.8 L723.3,1497.8 L725.0,1496.7 L726.7,1495.6 L728.4,1494.6 L730.1,1493.5 L731.8,1492.4 L733.4,1491.3 L735.1,1490.2 L736.8,1489.1 L738.4,1487.9 L740.1,1486.8 L741.7,1485.6 L743.3,1484.5 L744.9,1483.3 L746.6,1482.1 L748.2,1481.0 L749.8,1479.8 L751.4,1478.6 L753.0,1477.4 L754.6,1476.1 L756.1,1474.9 L757.7,1473.7 L759.3,1472.5 L760.8,1471.2 L762.4,1470.0 L764.0,1468.7 L765.5,1467.5 L767.1,1466.2 L768.6,1465.0 L770.2,1463.7 L771.7,1462.5 L773.3,1461.2 L774.8,1459.9 L776.4,1458.7 L777.9,1457.4 L779.5,1456.1 L781.0,1454.9 L782.6,1453.6 L784.1,1452.3 L785.7,1451.0 L787.2,1449.8 L788.8,1448.5 L790.3,1447.2 L791.9,1446.0 L793.5,1444.7 L795.0,1443.5 L796.6,1442.2 L798.2,1441.0 L799.7,1439.7 L801.3,1438.5 L802.9,1437.2 L804.4,1436.0 L806.0,1434.7 L807.6,1433.4 L809.1,1432.2 L810.7,1430.9 L812.2,1429.6 L813.7,1428.4 L815.3,1427.1 L816.8,1425.8 L818.3,1424.5 L819.8,1423.2 L821.3,1421.9 L822.8,1420.5 L824.3,1419.2 L825.8,1417.9 L827.3,1416.6 L828.7,1415.2 L830.2,1413.9 L831.7,1412.5 L833.1,1411.2 L834.6,1409.8 L836.0,1408.5 L837.5,1407.1 L839.0,1405.8 L840.4,1404.4 L841.9,1403.1 L843.3,1401.7 L844.8,1400.4 L846.3,1399.0 L847.7,1397.7 L849.2,1396.3 L850.7,1395.0 L852.2,1393.6 L853.6,1392.3 L855.1,1390.9 L856.6,1389.6 L858.1,1388.3 L859.6,1387.0 L861.2,1385.7 L862.7,1384.4 L864.2,1383.1 L865.8,1381.8 L867.4,1380.5 L868.9,1379.2 L870.5,1377.9 L872.1,1376.7 L873.7,1375.5 L875.3,1374.2 L876.9,1373.0 L878.6,1371.8 L880.2,1370.7 L881.9,1369.5 L883.5,1368.4 L885.2,1367.2 L886.9,1366.2 L888.6,1365.1 L890.3,1364.0 L892.0,1363.0 L893.8,1362.0 L895.5,1361.0 L897.3,1360.1 L899.1,1359.2 L900.8,1358.3 L902.6,1357.5 L904.5,1356.7 L906.3,1355.9 L908.1,1355.1 L910.0,1354.4 L911.8,1353.8 L913.7,1353.1 L915.6,1352.5 L917.5,1352.0 L919.4,1351.4 L921.3,1350.9 L923.2,1350.4 L925.2,1350.0 L927.1,1349.6 L929.1,1349.1 L931.0,1348.7 L933.0,1348.3 L934.9,1348.0 L936.9,1347.6 L938.9,1347.2 L940.9,1346.9 L942.8,1346.5 L944.8,1346.1 L946.8,1345.8 L948.8,1345.4 L950.7,1345.0 L952.7,1344.6 L954.7,1344.2 L956.6,1343.7 L958.6,1343.3 L960.6,1342.8 L962.5,1342.3 L964.5,1341.8 L966.4,1341.3 L968.4,1340.8 L970.4,1340.3 L972.3,1339.9 L974.3,1339.4 L976.2,1338.9 L978.2,1338.4 L980.1,1338.0 L982.1,1337.6 L984.0,1337.2 L986.0,1336.8 L987.9,1336.4 L989.9,1336.1 L991.8,1335.8 L993.8,1335.5 L995.8,1335.3 L997.7,1335.1 L999.7,1335.0 L1001.7,1334.9 L1003.7,1334.9 L1005.7,1334.9 L1007.7,1334.9 L1009.6,1335.0 L1011.6,1335.2 L1013.6,1335.4 L1015.6,1335.6 L1017.6,1335.9 L1019.6,1336.2 L1021.6,1336.6 L1023.5,1337.0 L1025.5,1337.5 L1027.4,1338.0 L1029.4,1338.6 L1031.3,1339.2 L1033.2,1339.8 L1035.1,1340.5 L1037.0,1341.2 L1038.9,1342.0 L1040.7,1342.8 L1042.6,1343.7 L1044.4,1344.5 L1046.2,1345.5 L1047.9,1346.4 L1049.7,1347.4 L1051.4,1348.4 L1053.1,1349.5 L1054.8,1350.6 L1056.4,1351.7 L1058.1,1352.8 L1059.7,1354.0 L1061.4,1355.1 L1063.0,1356.2 L1064.7,1357.4 L1066.3,1358.5 L1068.0,1359.6 L1069.6,1360.7 L1071.3,1361.8 L1073.0,1362.8 L1074.8,1363.8 L1076.5,1364.7 L1078.3,1365.7 L1080.1,1366.6 L1081.9,1367.4 L1083.7,1368.3 L1085.5,1369.1 L1087.4,1369.8 L1089.2,1370.6 L1091.1,1371.2 L1093.0,1371.9 L1094.9,1372.5 L1096.8,1373.1 L1098.7,1373.7 L1100.7,1374.2 L1102.6,1374.8 L1104.6,1375.3 L1106.5,1375.8 L1108.5,1376.2 L1110.4,1376.7 L1112.4,1377.2 L1114.3,1377.7 L1116.3,1378.2 L1118.2,1378.7 L1120.1,1379.3 L1122.1,1379.8 L1124.0,1380.4 L1125.9,1381.0 L1127.7,1381.7 L1129.6,1382.4 L1131.5,1383.1 L1133.3,1383.8 L1135.1,1384.6 L1136.9,1385.4 L1138.7,1386.3 L1140.5,1387.2 L1142.3,1388.1 L1144.0,1389.0 L1145.8,1390.0 L1147.5,1391.0 L1149.3,1392.0 L1151.0,1392.9 L1152.7,1393.9 L1154.5,1394.9 L1156.2,1395.9 L1158.0,1396.9 L1159.8,1397.8 L1161.5,1398.7 L1163.3,1399.6 L1165.1,1400.5 L1166.9,1401.4 L1168.7,1402.3 L1170.5,1403.2 L1172.3,1404.0 L1174.1,1404.9 L1175.9,1405.7 L1177.7,1406.6 L1179.6,1407.4 L1181.4,1408.3 L1183.2,1409.2 L1185.0,1410.1 L1186.7,1411.0 L1188.5,1411.9 L1190.3,1412.8 L1192.1,1413.7 L1193.9,1414.6 L1195.7,1415.4 L1197.5,1416.3 L1199.3,1417.2 L1201.1,1418.0 L1202.9,1418.8 L1204.7,1419.6 L1206.6,1420.4 L1208.4,1421.1 L1210.3,1421.8 L1212.2,1422.5 L1214.0,1423.2 L1215.9,1423.8 L1217.8,1424.4 L1219.7,1425.0 L1221.6,1425.6 L1223.5,1426.2 L1225.5,1426.8 L1227.4,1427.4 L1229.3,1428.0 L1231.2,1428.5 L1233.1,1429.1 L1235.0,1429.7 L1236.9,1430.3 L1238.8,1430.9 L1240.7,1431.6 L1242.7,1432.2 L1244.5,1432.8 L1246.4,1433.5 L1248.3,1434.1 L1250.2,1434.8 L1252.1,1435.4 L1254.0,1436.1 L1255.9,1436.7 L1257.8,1437.4 L1259.7,1438.1 L1261.6,1438.7 L1263.4,1439.4 L1265.3,1440.1 L1267.2,1440.8 L1269.1,1441.5 L1271.0,1442.2 L1272.8,1442.9 L1274.7,1443.6 L1276.6,1444.3 L1278.4,1445.0 L1280.3,1445.7 L1282.2,1446.4 L1284.1,1447.1 L1285.9,1447.8 L1287.8,1448.5 L1289.7,1449.2 L1291.5,1450.0 L1293.4,1450.7 L1295.3,1451.4 L1297.1,1452.1 L1299.0,1452.9 L1300.8,1453.6 L1302.7,1454.3 L1304.6,1455.1 L1306.4,1455.8 L1308.3,1456.5 L1310.1,1457.3 L1312.0,1458.0 L1313.9,1458.8 L1315.7,1459.6 L1317.5,1460.3 L1319.4,1461.1 L1321.2,1461.9 L1323.0,1462.7 L1324.9,1463.6 L1326.7,1464.4 L1328.5,1465.3 L1330.3,1466.1 L1332.1,1467.0 L1333.9,1467.9 L1335.7,1468.8 L1337.4,1469.7 L1339.2,1470.6 L1341.0,1471.4 L1342.8,1472.3 L1344.6,1473.1 L1346.5,1474.0 L1348.3,1474.8 L1350.1,1475.5 L1352.0,1476.3 L1353.8,1477.0 L1355.7,1477.7 L1357.6,1478.3 L1359.5,1479.0 L1361.4,1479.6 L1363.3,1480.2 L1365.2,1480.7 L1367.1,1481.3 L1369.1,1481.9 L1371.0,1482.4 L1372.9,1482.9 L1374.9,1483.4 L1376.8,1483.9 L1378.8,1484.4 L1380.7,1484.9 L1382.7,1485.4 L1384.6,1485.8 L1386.6,1486.3 L1388.5,1486.7 L1390.5,1487.1 L1392.4,1487.5 L1394.4,1487.8 L1396.4,1488.2 L1398.3,1488.5 L1400.3,1488.8 L1402.3,1489.1 L1404.3,1489.4 L1406.2,1489.7 L1408.2,1489.9 L1410.2,1490.1 L1412.2,1490.4 L1414.2,1490.6 L1416.2,1490.8 L1418.2,1491.0 L1420.2,1491.2 L1422.1,1491.4 L1424.1,1491.6 L1426.1,1491.7 L1428.1,1491.9 L1430.1,1492.1 L1432.1,1492.3 L1434.1,1492.5 L1436.1,1492.7 L1438.1,1492.9 L1440.1,1493.1 L1442.1,1493.3 L1444.1,1493.5 L1446.1,1493.7 L1448.0,1494.0 L1450.0,1494.2 L1452.0,1494.5 L1454.0,1494.8 L1456.0,1495.1 L1457.9,1495.5 L1459.9,1495.8 L1461.9,1496.2 L1463.8,1496.6 L1465.8,1497.0 L1467.7,1497.4 L1469.7,1497.9 L1471.6,1498.3 L1473.6,1498.8 L1475.5,1499.3 L1477.4,1499.9 L1479.3,1500.5 L1481.2,1501.0 L1483.1,1501.7 L1485.0,1502.3 L1486.9,1503.0 L1488.8,1503.6 L1490.7,1504.4 L1492.5,1505.1 L1494.4,1505.9 L1496.2,1506.6 L1498.1,1507.5 L1499.9,1508.3 L1501.7,1509.2 L1503.5,1510.1 L1505.3,1511.0 L1507.1,1511.9 L1508.9,1512.8 L1510.7,1513.8 L1512.4,1514.7 L1514.2,1515.7 L1516.0,1516.6 L1517.8,1517.6 L1519.5,1518.5 L1521.3,1519.4 L1523.1,1520.3 L1524.9,1521.2 L1526.7,1522.0 L1528.5,1522.8 L1530.4,1523.6 L1532.2,1524.3 L1534.1,1525.0 L1535.9,1525.7 L1537.8,1526.3 L1539.7,1526.9 L1541.6,1527.4 L1543.5,1527.9 L1545.5,1528.3 L1547.4,1528.8 L1549.4,1529.2 L1551.3,1529.5 L1553.3,1529.9 L1555.3,1530.2 L1557.2,1530.5 L1559.2,1530.8 L1561.2,1531.1 L1563.2,1531.3 L1565.2,1531.6 L1567.2,1531.8 L1569.2,1532.0 L1571.2,1532.2 L1573.2,1532.4 L1575.2,1532.6 L1577.2,1532.8 L1579.2,1533.0 L1581.2,1533.2 L1583.2,1533.4 L1585.2,1533.7 L1587.2,1533.9 L1589.2,1534.1 L1591.2,1534.3 L1593.2,1534.5 L1595.1,1534.8 L1597.1,1535.0 L1599.1,1535.2 L1601.1,1535.5 L1603.1,1535.7 L1605.0,1535.9 L1607.0,1536.2 L1609.0,1536.4 L1611.0,1536.6 L1613.0,1536.9 L1614.9,1537.1 L1616.9,1537.3 L1618.9,1537.6 L1620.9,1537.8 L1622.9,1538.0 L1624.9,1538.2 L1626.9,1538.5 L1628.9,1538.7 L1630.8,1538.9 L1632.8,1539.1 L1634.8,1539.3 L1636.8,1539.5 L1638.8,1539.7 L1640.8,1539.9 L1642.8,1540.1 L1644.8,1540.3 L1646.8,1540.5 L1648.8,1540.7 L1650.8,1540.9 L1652.8,1541.1 L1654.8,1541.2 L1656.8,1541.4 L1658.8,1541.5 L1660.7,1541.7 L1662.7,1541.8 L1664.7,1542.0 L1666.7,1542.1 L1668.7,1542.2 L1670.7,1542.4 L1672.7,1542.5 L1674.7,1542.6 L1676.7,1542.7 L1678.7,1542.8 L1680.7,1542.9 L1682.7,1543.0 L1684.7,1543.1 L1686.7,1543.2 L1688.7,1543.3 L1690.7,1543.3 L1692.7,1543.4 L1694.7,1543.5 L1696.7,1543.6 L1698.7,1543.6 L1700.7,1543.7 L1702.7,1543.7 L1704.7,1543.8 L1706.7,1543.8 L1708.7,1543.9 L1710.7,1544.0 L1712.7,1544.0 L1714.7,1544.0 L1716.7,1544.1 L1718.7,1544.1 L1720.7,1544.2 L1722.7,1544.2 L1724.7,1544.2 L1726.7,1544.3 L1728.7,1544.3 L1730.7,1544.4 L1732.7,1544.4 L1734.7,1544.4 L1736.7,1544.5 L1738.7,1544.5 L1740.7,1544.5 L1742.7,1544.6 L1744.7,1544.6 L1746.7,1544.6 L1748.7,1544.7 L1750.7,1544.7 L1752.7,1544.8 L1754.7,1544.8 L1756.7,1544.8 L1758.7,1544.9 L1760.7,1544.9 L1762.7,1545.0 L1764.7,1545.0 L1766.7,1545.1 L1768.7,1545.2 L1770.7,1545.2 L1772.7,1545.3 L1774.7,1545.3 L1776.7,1545.4 L1778.7,1545.5 L1780.7,1545.6 L1782.7,1545.6 L1784.7,1545.7 L1786.7,1545.8 L1788.7,1545.9 L1790.7,1546.0 L1792.7,1546.1 L1794.6,1546.2 L1796.6,1546.4 L1798.6,1546.5 L1800.6,1546.7 L1802.6,1546.8 L1804.6,1547.0 L1806.6,1547.2 L1808.6,1547.3 L1810.6,1547.5 L1812.6,1547.8 L1814.6,1548.0 L1816.5,1548.2 L1818.5,1548.5 L1820.5,1548.7 L1822.5,1549.0 L1824.5,1549.3 L1826.5,1549.6 L1828.4,1549.9 L1830.4,1550.2 L1832.4,1550.5 L1834.4,1550.9 L1836.4,1551.2 L1838.3,1551.5 L1840.3,1551.8 L1842.3,1552.0 L1844.3,1552.3 L1846.3,1552.6 L1848.3,1552.8 L1850.2,1553.0 L1852.2,1553.2 L1854.2,1553.4 L1856.2,1553.6 L1858.2,1553.8 L1860.2,1554.0 L1862.2,1554.1 L1864.2,1554.3 L1866.2,1554.4 L1868.2,1554.5 L1870.2,1554.7 L1872.2,1554.8 L1874.2,1554.9 L1876.2,1555.0 L1878.2,1555.1 L1880.2,1555.2 L1882.2,1555.3 L1884.2,1555.4 L1886.2,1555.5 L1888.1,1555.6 L1890.1,1555.7 L1892.1,1555.7 L1894.1,1555.8 L1896.1,1555.9 L1898.1,1556.0 L1900.1,1556.1 L1902.1,1556.1 L1904.1,1556.2 L1906.1,1556.3 L1908.1,1556.3 L1910.1,1556.4 L1912.1,1556.5 L1914.1,1556.5 L1916.1,1556.6 L1918.1,1556.7 L1920.1,1556.7 L1922.1,1556.8 L1924.1,1556.9 L1926.1,1556.9 L1928.1,1557.0 L1930.1,1557.1 L1932.1,1557.1 L1934.1,1557.2 L1936.1,1557.2 L1938.1,1557.3 L1940.1,1557.4 L1942.1,1557.4 L1944.1,1557.5 L1946.1,1557.5 L1948.1,1557.6 L1950.1,1557.7 L1952.1,1557.7 L1954.1,1557.8 L1956.1,1557.8 L1958.1,1557.9 L1960.1,1558.0 L1962.1,1558.0 L1964.1,1558.1 L1966.1,1558.2 L1968.1,1558.2 L1970.1,1558.3 L1972.1,1558.4 L1974.1,1558.5 L1976.1,1558.5 L1978.1,1558.6 L1980.1,1558.7 L1982.1,1558.8 L1984.1,1558.8 L1986.1,1558.9 L1988.1,1559.0 L1990.1,1559.1 L1992.1,1559.2 L1994.1,1559.2 L1996.1,1559.3 L1998.1,1559.4 L2000.1,1559.5 L2002.1,1559.6 L2004.1,1559.6 L2006.1,1559.7 L2008.1,1559.8 L2010.1,1559.9 L2012.1,1560.0 L2014.1,1560.0 L2016.1,1560.1 L2018.1,1560.2 L2020.1,1560.3 L2022.1,1560.4 L2024.1,1560.4 L2026.1,1560.5 L2028.1,1560.6 L2030.1,1560.6 L2032.1,1560.7 L2034.1,1560.8 L2036.1,1560.9 L2038.1,1560.9 L2040.1,1561.0 L2042.1,1561.1 L2044.1,1561.1 L2046.1,1561.2 L2048.1,1561.2 L2050.1,1561.3 L2052.1,1561.4 L2054.1,1561.4 L2056.1,1561.5 L2058.1,1561.5 L2060.1,1561.6 L2062.1,1561.6 L2064.0,1561.6 L2066.0,1561.7 L2068.0,1561.7 L2070.0,1561.8 L2072.0,1561.8 L2074.0,1561.8 L2076.0,1561.9 L2078.0,1561.9 L2080.0,1562.0 L2082.0,1562.0 L2084.0,1562.1 L2086.0,1562.1 L2088.0,1562.1 L2090.0,1562.2 L2092.0,1562.2 L2094.0,1562.3 L2096.0,1562.3 L2098.0,1562.4 L2100.0,1562.5 L2102.0,1562.5 L2104.0,1562.6 L2106.0,1562.6 L2108.0,1562.7 L2110.0,1562.8 L2112.0,1562.9 L2114.0,1563.0 L2116.0,1563.0 L2118.0,1563.1 L2120.0,1563.2 L2122.0,1563.3 L2124.0,1563.5 L2126.0,1563.6 L2128.0,1563.7 L2130.0,1563.8 L2132.0,1564.0 L2134.0,1564.1 L2136.0,1564.3 L2138.0,1564.4"/>
<path stroke="#000080" d="M214.0,1571.3 L215.9,1570.6 L217.8,1570.0 L219.7,1569.3 L221.6,1568.7 L223.5,1568.1 L225.4,1567.5 L227.3,1566.9 L229.2,1566.3 L231.2,1565.7 L233.1,1565.2 L235.0,1564.6 L236.9,1564.1 L238.8,1563.5 L240.8,1563.0 L242.7,1562.5 L244.6,1562.0 L246.6,1561.5 L248.5,1561.0 L250.5,1560.5 L252.4,1560.1 L254.3,1559.6 L256.3,1559.2 L258.2,1558.7 L260.2,1558.3 L262.1,1557.8 L264.1,1557.4 L266.1,1557.0 L268.0,1556.5 L270.0,1556.1 L271.9,1555.7 L273.9,1555.3 L275.9,1554.9 L277.8,1554.5 L279.8,1554.1 L281.8,1553.8 L283.8,1553.4 L285.7,1553.1 L287.7,1552.8 L289.7,1552.5 L291.7,1552.2 L293.7,1552.0 L295.7,1551.7 L297.6,1551.6 L299.6,1551.4 L301.6,1551.3 L303.6,1551.2 L305.6,1551.2 L307.6,1551.2 L309.6,1551.2 L311.6,1551.2 L313.6,1551.3 L315.6,1551.3 L317.6,1551.4 L319.6,1551.6 L321.6,1551.7 L323.6,1551.8 L325.6,1552.0 L327.6,1552.1 L329.6,1552.3 L331.6,1552.4 L333.6,1552.6 L335.6,1552.7 L337.6,1552.8 L339.6,1552.9 L341.6,1553.0 L343.6,1553.1 L345.6,1553.2 L347.6,1553.3 L349.6,1553.3 L351.6,1553.4 L353.6,1553.4 L355.6,1553.4 L357.6,1553.5 L359.6,1553.5 L361.6,1553.5 L363.6,1553.5 L365.6,1553.5 L367.6,1553.5 L369.6,1553.5 L371.6,1553.4 L373.6,1553.4 L375.6,1553.4 L377.6,1553.3 L379.6,1553.3 L381.6,1553.2 L383.6,1553.1 L385.6,1553.1 L387.6,1553.0 L389.6,1552.9 L391.6,1552.8 L393.6,1552.8 L395.6,1552.7 L397.6,1552.6 L399.6,1552.5 L401.6,1552.4 L403.6,1552.3 L405.6,1552.2 L407.6,1552.1 L409.6,1552.0 L411.6,1551.8 L413.6,1551.7 L415.6,1551.6 L417.6,1551.5 L419.6,1551.4 L421.6,1551.3 L423.6,1551.2 L425.6,1551.0 L427.6,1550.9 L429.6,1550.8 L431.6,1550.7 L433.6,1550.6 L435.6,1550.5 L437.6,1550.4 L439.6,1550.3 L441.6,1550.1 L443.6,1550.0 L445.6,1549.9 L447.6,1549.8 L449.6,1549.7 L451.6,1549.6 L453.6,1549.5 L455.6,1549.5 L457.6,1549.4 L459.6,1549.3 L461.6,1549.2 L463.6,1549.1 L465.6,1549.1 L467.6,1549.0 L469.6,1549.0 L471.6,1548.9 L473.6,1548.9 L475.6,1548.8 L477.6,1548.8 L479.6,1548.8 L481.6,1548.7 L483.6,1548.7 L485.6,1548.7 L487.6,1548.7 L489.6,1548.7 L491.6,1548.8 L493.6,1548.8 L495.6,1548.8 L497.6,1548.9 L499.6,1548.9 L501.6,1549.0 L503.6,1549.0 L505.6,1549.1 L507.6,1549.1 L509.6,1549.2 L511.6,1549.3 L513.6,1549.4 L515.6,1549.5 L517.6,1549.5 L519.6,1549.6 L521.6,1549.7 L523.6,1549.8 L525.6,1549.9 L527.6,1550.0 L529.6,1550.1 L531.6,1550.2 L533.6,1550.3 L535.6,1550.4 L537.6,1550.5 L539.6,1550.6 L541.6,1550.6 L543.6,1550.7 L545.6,1550.8 L547.6,1550.9 L549.6,1551.0 L551.6,1551.0 L553.6,1551.1 L555.6,1551.2 L557.6,1551.2 L559.6,1551.3 L561.6,1551.3 L563.6,1551.4 L565.6,1551.4 L567.6,1551.4 L569.6,1551.5 L571.6,1551.5 L573.6,1551.5 L575.6,1551.5 L577.6,1551.4 L579.6,1551.4 L581.6,1551.4 L583.6,1551.3 L585.6,1551.3 L587.6,1551.2 L589.6,1551.2 L591.6,1551.1 L593.6,1551.0 L595.6,1550.9 L597.6,1550.8 L599.5,1550.7 L601.5,1550.6 L603.5,1550.4 L605.5,1550.3 L607.5,1550.2 L609.5,1550.0 L611.5,1549.9 L613.5,1549.7 L615.5,1549.5 L617.5,1549.4 L619.5,1549.2 L621.5,1549.0 L623.4,1548.8 L625.4,1548.6 L627.4,1548.4 L629.4,1548.2 L631.4,1547.9 L633.4,1547.7 L635.4,1547.5 L637.4,1547.3 L639.4,1547.0 L641.4,1546.8 L643.4,1546.5 L645.3,1546.3 L647.3,1546.0 L649.3,1545.8 L651.3,1545.5 L653.3,1545.2 L655.3,1544.9 L657.3,1544.6 L659.3,1544.4 L661.2,1544.1 L663.2,1543.8 L665.2,1543.4 L667.2,1543.1 L669.2,1542.8 L671.1,1542.4 L673.1,1542.1 L675.1,1541.8 L677.1,1541.4 L679.0,1541.0 L681.0,1540.6 L683.0,1540.3 L684.9,1539.9 L686.9,1539.4 L688.8,1539.0 L690.8,1538.6 L692.8,1538.2 L694.7,1537.7 L696.6,1537.3 L698.6,1536.8 L700.5,1536.3 L702.5,1535.8 L704.4,1535.3 L706.3,1534.8 L708.3,1534.3 L710.2,1533.7 L712.1,1533.2 L714.0,1532.6 L715.9,1532.0 L717.8,1531.4 L719.7,1530.8 L721.6,1530.2 L723.5,1529.6 L725.4,1528.9 L727.3,1528.3 L729.2,1527.6 L731.1,1526.9 L733.0,1526.2 L734.8,1525.5 L736.7,1524.8 L738.6,1524.1 L740.4,1523.3 L742.3,1522.6 L744.1,1521.8 L746.0,1521.0 L747.8,1520.3 L749.6,1519.5 L751.5,1518.7 L753.3,1517.8 L755.1,1517.0 L757.0,1516.2 L758.8,1515.3 L760.6,1514.5 L762.4,1513.6 L764.2,1512.8 L766.0,1511.9 L767.8,1511.0 L769.6,1510.1 L771.4,1509.2 L773.2,1508.3 L775.0,1507.4 L776.8,1506.5 L778.6,1505.6 L780.3,1504.7 L782.1,1503.7 L783.9,1502.8 L785.7,1501.9 L787.4,1500.9 L789.2,1500.0 L790.9,1499.0 L792.7,1498.1 L794.5,1497.1 L796.2,1496.1 L798.0,1495.2 L799.7,1494.2 L801.4,1493.2 L803.2,1492.3 L804.9,1491.3 L806.6,1490.3 L808.4,1489.3 L810.1,1488.3 L811.8,1487.3 L813.6,1486.3 L815.3,1485.3 L817.0,1484.3 L818.7,1483.3 L820.4,1482.3 L822.1,1481.3 L823.9,1480.3 L825.6,1479.2 L827.3,1478.2 L829.0,1477.2 L830.7,1476.1 L832.4,1475.1 L834.1,1474.0 L835.8,1473.0 L837.5,1471.9 L839.2,1470.8 L840.9,1469.8 L842.6,1468.7 L844.3,1467.6 L846.0,1466.5 L847.7,1465.5 L849.4,1464.4 L851.1,1463.3 L852.8,1462.2 L854.4,1461.1 L856.1,1460.0 L857.8,1458.9 L859.5,1457.9 L861.2,1456.8 L862.9,1455.7 L864.6,1454.6 L866.3,1453.5 L868.1,1452.5 L869.8,1451.4 L871.5,1450.4 L873.2,1449.3 L874.9,1448.3 L876.6,1447.3 L878.4,1446.2 L880.1,1445.2 L881.8,1444.2 L883.6,1443.2 L885.3,1442.2 L887.1,1441.3 L888.8,1440.3 L890.6,1439.4 L892.3,1438.4 L894.1,1437.5 L895.9,1436.6 L897.7,1435.8 L899.5,1434.9 L901.3,1434.0 L903.1,1433.2 L904.9,1432.4 L906.7,1431.6 L908.5,1430.8 L910.4,1430.1 L912.2,1429.3 L914.1,1428.6 L915.9,1427.9 L917.8,1427.3 L919.7,1426.6 L921.6,1426.0 L923.5,1425.4 L925.4,1424.9 L927.3,1424.3 L929.2,1423.8 L931.2,1423.3 L933.1,1422.9 L935.1,1422.4 L937.1,1422.0 L939.1,1421.7 L941.0,1421.3 L943.0,1420.9 L945.0,1420.6 L947.0,1420.3 L949.0,1419.9 L951.0,1419.6 L953.0,1419.2 L955.0,1418.8 L956.9,1418.3 L958.9,1417.8 L960.8,1417.3 L962.7,1416.8 L964.6,1416.2 L966.5,1415.6 L968.4,1415.0 L970.3,1414.4 L972.2,1413.9 L974.1,1413.3 L976.0,1412.7 L978.0,1412.2 L979.9,1411.6 L981.8,1411.1 L983.8,1410.7 L985.7,1410.3 L987.7,1409.9 L989.6,1409.5 L991.6,1409.2 L993.6,1408.9 L995.6,1408.7 L997.6,1408.5 L999.6,1408.3 L1001.6,1408.1 L1003.6,1408.0 L1005.6,1408.0 L1007.6,1408.0 L1009.6,1408.0 L1011.6,1408.1 L1013.6,1408.2 L1015.6,1408.3 L1017.6,1408.5 L1019.6,1408.7 L1021.6,1409.0 L1023.5,1409.2 L1025.5,1409.6 L1027.5,1409.9 L1029.5,1410.3 L1031.4,1410.8 L1033.4,1411.2 L1035.3,1411.8 L1037.3,1412.3 L1039.2,1412.9 L1041.1,1413.5 L1043.0,1414.1 L1044.9,1414.8 L1046.8,1415.5 L1048.6,1416.3 L1050.5,1417.1 L1052.3,1417.9 L1054.2,1418.7 L1056.0,1419.6 L1057.8,1420.5 L1059.6,1421.4 L1061.4,1422.3 L1063.2,1423.2 L1065.0,1424.2 L1066.7,1425.1 L1068.5,1426.0 L1070.3,1426.9 L1072.1,1427.8 L1073.9,1428.7 L1075.7,1429.6 L1077.5,1430.4 L1079.3,1431.2 L1081.1,1432.0 L1083.0,1432.8 L1084.8,1433.5 L1086.7,1434.2 L1088.5,1434.8 L1090.4,1435.3 L1092.3,1435.9 L1094.3,1436.3 L1096.2,1436.7 L1098.2,1437.1 L1100.2,1437.4 L1102.2,1437.7 L1104.2,1437.9 L1106.2,1438.1 L1108.2,1438.4 L1110.2,1438.6 L1112.2,1438.8 L1114.2,1439.1 L1116.2,1439.4 L1118.2,1439.7 L1120.2,1440.0 L1122.1,1440.4 L1124.1,1440.8 L1126.1,1441.2 L1128.0,1441.6 L1130.0,1442.1 L1131.9,1442.6 L1133.8,1443.1 L1135.7,1443.7 L1137.6,1444.2 L1139.6,1444.8 L1141.5,1445.4 L1143.3,1446.1 L1145.2,1446.7 L1147.1,1447.4 L1149.0,1448.1 L1150.9,1448.8 L1152.7,1449.5 L1154.6,1450.2 L1156.5,1450.9 L1158.3,1451.7 L1160.2,1452.4 L1162.1,1453.2 L1163.9,1454.0 L1165.8,1454.7 L1167.6,1455.5 L1169.5,1456.3 L1171.3,1457.1 L1173.2,1457.8 L1175.0,1458.6 L1176.9,1459.4 L1178.7,1460.1 L1180.6,1460.9 L1182.5,1461.6 L1184.3,1462.4 L1186.2,1463.1 L1188.1,1463.8 L1189.9,1464.5 L1191.8,1465.2 L1193.7,1465.8 L1195.6,1466.5 L1197.5,1467.1 L1199.4,1467.7 L1201.3,1468.3 L1203.2,1468.8 L1205.1,1469.3 L1207.1,1469.8 L1209.0,1470.3 L1211.0,1470.7 L1212.9,1471.1 L1214.9,1471.5 L1216.8,1471.9 L1218.8,1472.2 L1220.8,1472.5 L1222.8,1472.8 L1224.8,1473.1 L1226.8,1473.4 L1228.8,1473.6 L1230.8,1473.9 L1232.7,1474.2 L1234.7,1474.5 L1236.7,1474.8 L1238.7,1475.1 L1240.7,1475.4 L1242.6,1475.8 L1244.6,1476.1 L1246.6,1476.5 L1248.5,1476.9 L1250.5,1477.3 L1252.4,1477.8 L1254.4,1478.2 L1256.3,1478.7 L1258.3,1479.2 L1260.2,1479.7 L1262.1,1480.2 L1264.1,1480.7 L1266.0,1481.3 L1267.9,1481.8 L1269.8,1482.4 L1271.7,1483.0 L1273.7,1483.5 L1275.6,1484.1 L1277.5,1484.6 L1279.4,1485.2 L1281.4,1485.7 L1283.3,1486.2 L1285.2,1486.7 L1287.2,1487.2 L1289.1,1487.7 L1291.1,1488.2 L1293.0,1488.6 L1295.0,1489.1 L1296.9,1489.5 L1298.9,1489.9 L1300.8,1490.4 L1302.8,1490.8 L1304.7,1491.2 L1306.7,1491.7 L1308.6,1492.1 L1310.6,1492.6 L1312.5,1493.1 L1314.5,1493.6 L1316.4,1494.0 L1318.3,1494.5 L1320.3,1495.0 L1322.2,1495.5 L1324.1,1496.1 L1326.0,1496.6 L1328.0,1497.1 L1329.9,1497.6 L1331.8,1498.1 L1333.8,1498.7 L1335.7,1499.2 L1337.6,1499.7 L1339.5,1500.3 L1341.5,1500.8 L1343.4,1501.3 L1345.3,1501.9 L1347.2,1502.4 L1349.2,1502.9 L1351.1,1503.4 L1353.0,1504.0 L1355.0,1504.5 L1356.9,1505.0 L1358.9,1505.5 L1360.8,1506.1 L1362.7,1506.6 L1364.7,1507.1 L1366.6,1507.6 L1368.6,1508.0 L1370.5,1508.5 L1372.5,1509.0 L1374.5,1509.5 L1376.4,1509.9 L1378.4,1510.3 L1380.3,1510.8 L1382.3,1511.2 L1384.3,1511.6 L1386.2,1512.0 L1388.2,1512.3 L1390.1,1512.7 L1392.1,1513.0 L1394.1,1513.4 L1396.0,1513.7 L1398.0,1513.9 L1400.0,1514.2 L1401.9,1514.4 L1403.9,1514.7 L1405.9,1514.9 L1407.8,1515.1 L1409.8,1515.2 L1411.8,1515.4 L1413.8,1515.5 L1415.8,1515.6 L1417.8,1515.7 L1419.8,1515.7 L1421.8,1515.8 L1423.8,1515.8 L1425.8,1515.8 L1427.8,1515.8 L1429.8,1515.8 L1431.8,1515.8 L1433.9,1515.7 L1435.9,1515.7 L1437.9,1515.7 L1439.9,1515.7 L1442.0,1515.7 L1444.0,1515.7 L1446.0,1515.7 L1448.0,1515.7 L1450.0,1515.8 L1452.0,1515.8 L1454.0,1515.9 L1456.0,1516.0 L1458.0,1516.2 L1460.0,1516.3 L1462.0,1516.5 L1464.0,1516.7 L1466.0,1517.0 L1467.9,1517.3 L1469.9,1517.6 L1471.9,1518.0 L1473.8,1518.4 L1475.7,1518.8 L1477.7,1519.3 L1479.6,1519.8 L1481.5,1520.3 L1483.5,1520.8 L1485.4,1521.3 L1487.3,1521.9 L1489.2,1522.5 L1491.1,1523.1 L1493.0,1523.7 L1494.9,1524.3 L1496.8,1525.0 L1498.7,1525.6 L1500.6,1526.3 L1502.5,1527.0 L1504.4,1527.6 L1506.3,1528.3 L1508.2,1529.0 L1510.1,1529.7 L1512.0,1530.3 L1513.9,1531.0 L1515.8,1531.7 L1517.7,1532.3 L1519.6,1533.0 L1521.5,1533.6 L1523.4,1534.3 L1525.3,1534.9 L1527.2,1535.5 L1529.1,1536.1 L1531.0,1536.6 L1532.9,1537.2 L1534.9,1537.7 L1536.8,1538.2 L1538.7,1538.7 L1540.7,1539.2 L1542.6,1539.6 L1544.6,1540.0 L1546.5,1540.4 L1548.5,1540.7 L1550.5,1541.0 L1552.4,1541.4 L1554.4,1541.7 L1556.4,1541.9 L1558.4,1542.2 L1560.3,1542.4 L1562.3,1542.7 L1564.3,1542.9 L1566.3,1543.1 L1568.3,1543.3 L1570.3,1543.5 L1572.3,1543.7 L1574.3,1543.9 L1576.3,1544.1 L1578.3,1544.3 L1580.3,1544.4 L1582.3,1544.6 L1584.3,1544.8 L1586.3,1545.0 L1588.3,1545.2 L1590.2,1545.4 L1592.2,1545.6 L1594.2,1545.8 L1596.2,1545.9 L1598.2,1546.1 L1600.2,1546.3 L1602.2,1546.5 L1604.2,1546.7 L1606.2,1546.8 L1608.2,1547.0 L1610.2,1547.2 L1612.2,1547.3 L1614.2,1547.5 L1616.2,1547.6 L1618.2,1547.8 L1620.2,1547.9 L1622.2,1548.1 L1624.2,1548.2 L1626.2,1548.3 L1628.2,1548.4 L1630.1,1548.6 L1632.1,1548.7 L1634.1,1548.8 L1636.1,1548.9 L1638.1,1549.0 L1640.1,1549.1 L1642.1,1549.2 L1644.1,1549.3 L1646.1,1549.4 L1648.1,1549.4 L1650.1,1549.5 L1652.1,1549.6 L1654.1,1549.6 L1656.1,1549.7 L1658.1,1549.8 L1660.1,1549.8 L1662.1,1549.9 L1664.1,1549.9 L1666.1,1549.9 L1668.1,1550.0 L1670.1,1550.0 L1672.1,1550.0 L1674.1,1550.0 L1676.1,1550.1 L1678.1,1550.1 L1680.1,1550.1 L1682.1,1550.1 L1684.1,1550.1 L1686.1,1550.1 L1688.1,1550.1 L1690.2,1550.1 L1692.2,1550.1 L1694.2,1550.1 L1696.2,1550.1 L1698.2,1550.1 L1700.2,1550.1 L1702.2,1550.1 L1704.2,1550.1 L1706.2,1550.1 L1708.2,1550.1 L1710.2,1550.1 L1712.2,1550.1 L1714.2,1550.1 L1716.2,1550.1 L1718.2,1550.1 L1720.2,1550.1 L1722.2,1550.0 L1724.2,1550.0 L1726.2,1550.0 L1728.2,1550.0 L1730.2,1550.0 L1732.2,1550.0 L1734.2,1550.1 L1736.2,1550.1 L1738.2,1550.1 L1740.2,1550.1 L1742.2,1550.1 L1744.2,1550.1 L1746.2,1550.1 L1748.2,1550.2 L1750.2,1550.2 L1752.2,1550.2 L1754.2,1550.3 L1756.2,1550.3 L1758.2,1550.4 L1760.2,1550.4 L1762.2,1550.5 L1764.2,1550.5 L1766.2,1550.6 L1768.2,1550.7 L1770.2,1550.7 L1772.2,1550.8 L1774.2,1550.9 L1776.2,1551.0 L1778.2,1551.1 L1780.2,1551.2 L1782.2,1551.3 L1784.2,1551.4 L1786.2,1551.6 L1788.2,1551.7 L1790.2,1551.8 L1792.2,1552.0 L1794.2,1552.1 L1796.2,1552.2 L1798.1,1552.4 L1800.1,1552.6 L1802.1,1552.7 L1804.1,1552.9 L1806.1,1553.0 L1808.1,1553.2 L1810.1,1553.4 L1812.1,1553.6 L1814.1,1553.7 L1816.1,1553.9 L1818.1,1554.1 L1820.1,1554.3 L1822.1,1554.5 L1824.1,1554.7 L1826.1,1554.9 L1828.0,1555.1 L1830.0,1555.3 L1832.0,1555.5 L1834.0,1555.7 L1836.0,1555.9 L1838.0,1556.1 L1840.0,1556.3 L1842.0,1556.5 L1844.0,1556.7 L1846.0,1556.9 L1848.0,1557.1 L1850.0,1557.2 L1852.0,1557.4 L1854.0,1557.6 L1856.0,1557.8 L1857.9,1557.9 L1859.9,1558.1 L1861.9,1558.3 L1863.9,1558.4 L1865.9,1558.6 L1867.9,1558.7 L1869.9,1558.8 L1871.9,1558.9 L1873.9,1559.0 L1875.9,1559.1 L1877.9,1559.2 L1879.9,1559.3 L1881.9,1559.4 L1883.9,1559.5 L1885.9,1559.5 L1887.9,1559.5 L1889.9,1559.6 L1891.9,1559.6 L1893.9,1559.6 L1895.9,1559.6 L1897.9,1559.6 L1899.9,1559.6 L1901.9,1559.6 L1903.9,1559.6 L1905.9,1559.5 L1907.9,1559.5 L1909.9,1559.5 L1911.9,1559.5 L1913.9,1559.4 L1915.9,1559.4 L1917.9,1559.4 L1919.9,1559.4 L1921.9,1559.3 L1923.9,1559.3 L1926.0,1559.3 L1928.0,1559.3 L1930.0,1559.3 L1932.0,1559.4 L1934.0,1559.4 L1936.0,1559.4 L1938.0,1559.5 L1940.0,1559.5 L1942.0,1559.5 L1944.0,1559.6 L1946.0,1559.7 L1948.0,1559.7 L1950.0,1559.8 L1952.0,1559.9 L1954.0,1559.9 L1956.0,1560.0 L1958.0,1560.1 L1960.0,1560.2 L1962.0,1560.3 L1964.0,1560.3 L1966.0,1560.4 L1968.0,1560.5 L1970.0,1560.6 L1972.0,1560.7 L1974.0,1560.7 L1976.0,1560.8 L1978.0,1560.9 L1980.0,1561.0 L1982.0,1561.1 L1984.0,1561.1 L1986.0,1561.2 L1988.0,1561.3 L1990.0,1561.3 L1992.0,1561.4 L1994.0,1561.5 L1996.0,1561.6 L1998.0,1561.6 L2000.0,1561.7 L2002.0,1561.8 L2004.0,1561.8 L2006.0,1561.9 L2008.0,1562.0 L2010.0,1562.0 L2012.0,1562.1 L2014.0,1562.2 L2016.0,1562.2 L2018.0,1562.3 L2020.0,1562.3 L2022.0,1562.4 L2024.0,1562.5 L2026.0,1562.5 L2028.0,1562.6 L2030.0,1562.6 L2032.0,1562.7 L2034.0,1562.7 L2036.0,1562.8 L2038.0,1562.9 L2040.0,1562.9 L2042.0,1563.0 L2044.0,1563.0 L2046.0,1563.1 L2048.0,1563.1 L2050.0,1563.2 L2052.0,1563.2 L2054.0,1563.3 L2056.0,1563.3 L2058.0,1563.4 L2060.0,1563.4 L2062.0,1563.5 L2064.0,1563.5 L2066.0,1563.6 L2068.0,1563.6 L2070.0,1563.7 L2072.0,1563.7 L2074.0,1563.8 L2076.0,1563.8 L2078.0,1563.9 L2080.0,1563.9 L2082.0,1564.0 L2084.0,1564.0 L2086.0,1564.1 L2088.0,1564.1 L2090.0,1564.2 L2092.0,1564.2 L2094.0,1564.3 L2096.0,1564.3 L2098.0,1564.4 L2100.0,1564.4 L2102.0,1564.5 L2104.0,1564.5 L2106.0,1564.6 L2108.0,1564.6 L2110.0,1564.7 L2112.0,1564.7 L2114.0,1564.8 L2116.0,1564.8 L2118.0,1564.9 L2120.0,1564.9 L2122.0,1565.0 L2124.0,1565.0 L2126.0,1565.1 L2128.0,1565.1 L2130.0,1565.2 L2132.0,1565.2 L2134.0,1565.3 L2136.0,1565.3 L2138.0,1565.4"/>
</g>
<g stroke-width="9" shape-rendering="crispEdges">
<line x1="1177.5" y1="219.5" x2="1358" y2="219.5" stroke="#ff0000"/>
<line x1="1177.5" y1="318.7" x2="1358" y2="318.7" stroke="#0000ff"/>
<line x1="1177.5" y1="439.7" x2="1358" y2="439.7" stroke="#ff00ff"/>
<line x1="1177.5" y1="561" x2="1358" y2="561" stroke="#000080"/>
<line x1="1177.5" y1="682.7" x2="1358" y2="682.7" stroke="#008000"/>
</g>
<g font-family="'Liberation Sans', sans-serif" style="font-kerning:none" font-size="80.5" fill="#000">
<text transform="translate(1380.5,247.1) scale(1,1.045)">PTI</text>
<text transform="translate(1380.5,346.3) scale(1,1.045)">PTI/TiO<tspan dy="26.5" dx="-1.2" font-size="50">2</tspan><tspan dy="-26.5" dx="-0.6">-3wt%</tspan></text>
<text transform="translate(1380.5,467) scale(1,1.045)">PTI/TiO<tspan dy="26.5" dx="-1.2" font-size="50">2</tspan><tspan dy="-26.5" dx="-0.6">-5wt%</tspan></text>
<text transform="translate(1380.5,588.8) scale(1,1.045)">PTI/TiO<tspan dy="26.5" dx="-1.2" font-size="50">2</tspan><tspan dy="-26.5" dx="-0.6">-7wt%</tspan></text>
<text transform="translate(1380.5,709.5) scale(1,1.045)">PTI/TiO<tspan dy="26.5" dx="-1.2" font-size="50">2</tspan><tspan dy="-26.5" dx="-0.6">-10wt%</tspan></text>
</g>
<g font-family="'Liberation Sans', sans-serif" style="font-kerning:none" font-weight="bold" fill="#000" text-anchor="middle">
<text transform="translate(214.4,1676.6) scale(1,1.045)" font-size="66.5">300</text>
<text transform="translate(695.1,1676.6) scale(1,1.045)" font-size="66.5">400</text>
<text transform="translate(1175.9,1676.6) scale(1,1.045)" font-size="66.5">500</text>
<text transform="translate(1656.7,1676.6) scale(1,1.045)" font-size="66.5">600</text>
<text transform="translate(2137.4,1676.6) scale(1,1.045)" font-size="66.5">700</text>
<text transform="translate(1175.5,1806.0) scale(1,1.015)" font-size="80.5">Wavelength (nm)</text>
<text transform="translate(91.1,775) rotate(-90) scale(1,1.015)" font-size="80.5">Intensity (a.u.)</text>
</g>
</svg>
</body>
</html>
